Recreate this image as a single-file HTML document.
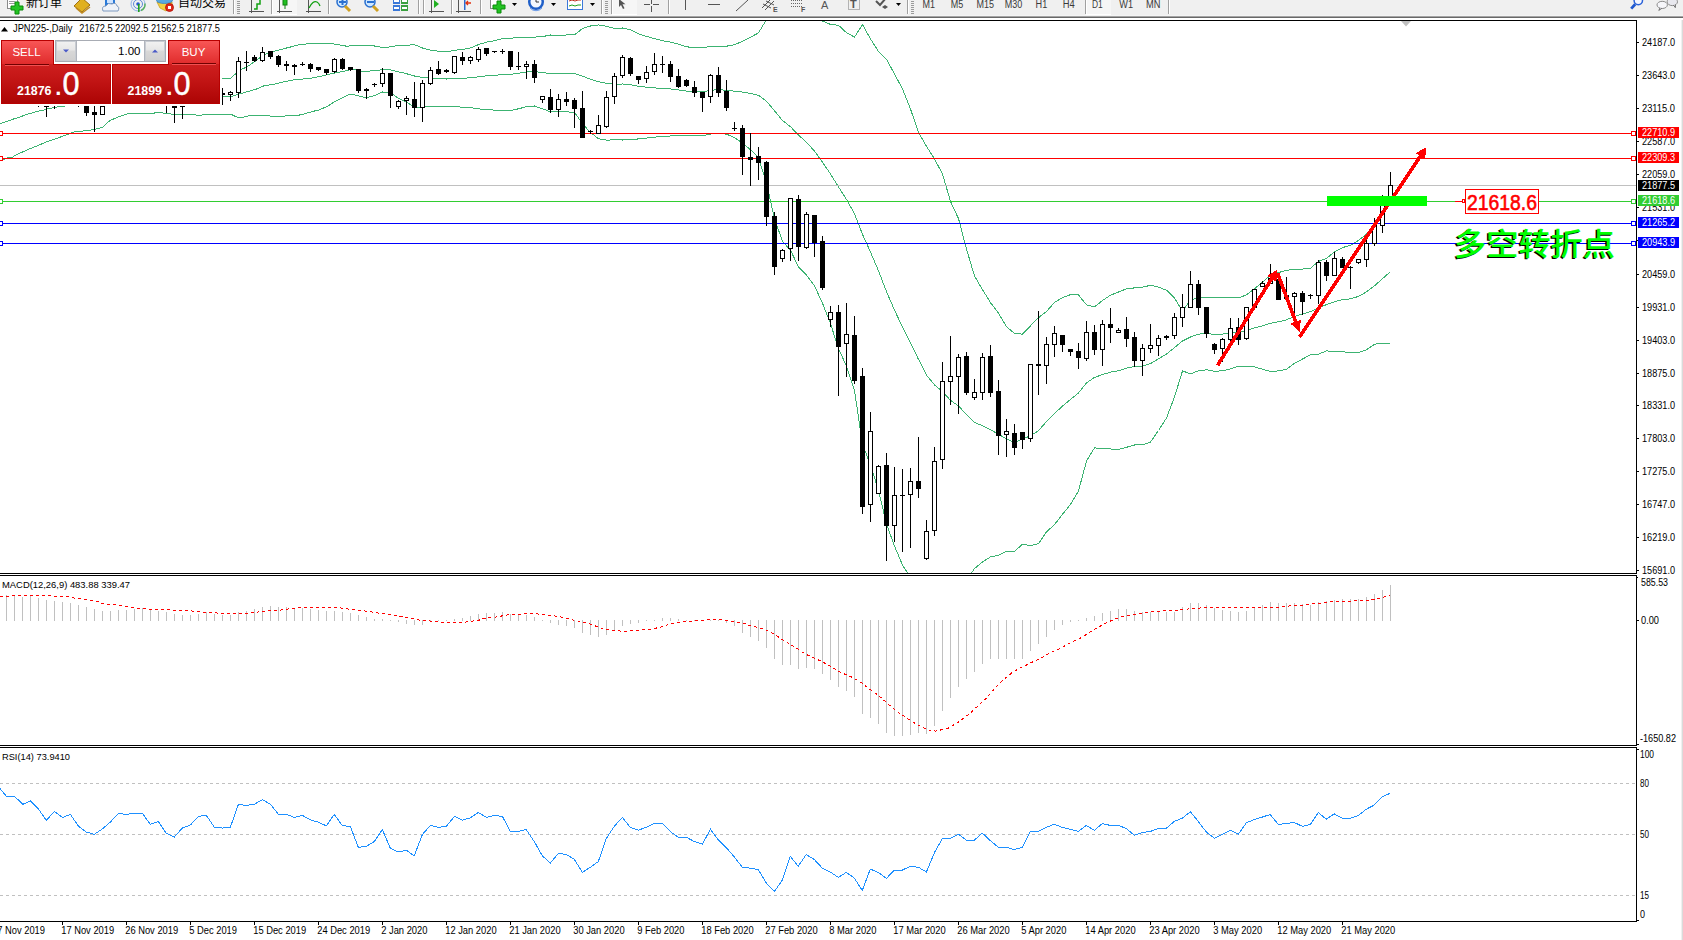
<!DOCTYPE html><html><head><meta charset="utf-8"><title>JPN225 Daily</title>
<style>html,body{margin:0;padding:0;background:#fff;overflow:hidden}svg{display:block}text{white-space:pre}</style></head><body>
<svg width="1683" height="940" viewBox="0 0 1683 940">
<rect x="0" y="0" width="1683" height="16" fill="#f0f0f0"/>
<rect x="0" y="15" width="1683" height="1" fill="#f4f4f4"/>
<rect x="0" y="16" width="1683" height="1" fill="#a4a4a4"/>
<rect x="0" y="17" width="1683" height="1" fill="#686868"/>
<rect x="0" y="18" width="1683" height="2" fill="#ffffff"/>
<g><rect x="1086" y="0" width="25" height="14" fill="#f6f6f6"/><rect x="1086" y="14" width="25" height="1" fill="#ffffff"/><rect x="272" y="0" width="25" height="14" fill="#f6f6f6"/><rect x="272" y="14" width="25" height="1" fill="#ffffff"/><rect x="612" y="0" width="25" height="14" fill="#f6f6f6"/><rect x="612" y="14" width="25" height="1" fill="#ffffff"/><rect x="233" y="0" width="1" height="14" fill="#a0a0a0"/><rect x="234" y="0" width="1" height="14" fill="#ffffff"/><rect x="271" y="0" width="1" height="14" fill="#a0a0a0"/><rect x="272" y="0" width="1" height="14" fill="#ffffff"/><rect x="328" y="0" width="1" height="14" fill="#a0a0a0"/><rect x="329" y="0" width="1" height="14" fill="#ffffff"/><rect x="418" y="0" width="1" height="14" fill="#a0a0a0"/><rect x="419" y="0" width="1" height="14" fill="#ffffff"/><rect x="423" y="0" width="1" height="14" fill="#a0a0a0"/><rect x="424" y="0" width="1" height="14" fill="#ffffff"/><rect x="451" y="0" width="1" height="14" fill="#a0a0a0"/><rect x="452" y="0" width="1" height="14" fill="#ffffff"/><rect x="480" y="0" width="1" height="14" fill="#a0a0a0"/><rect x="481" y="0" width="1" height="14" fill="#ffffff"/><rect x="601" y="0" width="1" height="14" fill="#a0a0a0"/><rect x="602" y="0" width="1" height="14" fill="#ffffff"/><rect x="611" y="0" width="1" height="14" fill="#a0a0a0"/><rect x="612" y="0" width="1" height="14" fill="#ffffff"/><rect x="668" y="0" width="1" height="14" fill="#a0a0a0"/><rect x="669" y="0" width="1" height="14" fill="#ffffff"/><rect x="907" y="0" width="1" height="14" fill="#a0a0a0"/><rect x="908" y="0" width="1" height="14" fill="#ffffff"/><rect x="1085" y="0" width="1" height="14" fill="#a0a0a0"/><rect x="1086" y="0" width="1" height="14" fill="#ffffff"/><rect x="1168" y="0" width="1" height="14" fill="#a0a0a0"/><rect x="1169" y="0" width="1" height="14" fill="#ffffff"/><rect x="237" y="1" width="3" height="1" fill="#9a9a9a"/><rect x="237" y="3" width="3" height="1" fill="#9a9a9a"/><rect x="237" y="5" width="3" height="1" fill="#9a9a9a"/><rect x="237" y="7" width="3" height="1" fill="#9a9a9a"/><rect x="237" y="9" width="3" height="1" fill="#9a9a9a"/><rect x="237" y="11" width="3" height="1" fill="#9a9a9a"/><rect x="237" y="13" width="3" height="1" fill="#9a9a9a"/><rect x="605" y="1" width="3" height="1" fill="#9a9a9a"/><rect x="605" y="3" width="3" height="1" fill="#9a9a9a"/><rect x="605" y="5" width="3" height="1" fill="#9a9a9a"/><rect x="605" y="7" width="3" height="1" fill="#9a9a9a"/><rect x="605" y="9" width="3" height="1" fill="#9a9a9a"/><rect x="605" y="11" width="3" height="1" fill="#9a9a9a"/><rect x="605" y="13" width="3" height="1" fill="#9a9a9a"/><rect x="911" y="1" width="3" height="1" fill="#9a9a9a"/><rect x="911" y="3" width="3" height="1" fill="#9a9a9a"/><rect x="911" y="5" width="3" height="1" fill="#9a9a9a"/><rect x="911" y="7" width="3" height="1" fill="#9a9a9a"/><rect x="911" y="9" width="3" height="1" fill="#9a9a9a"/><rect x="911" y="11" width="3" height="1" fill="#9a9a9a"/><rect x="911" y="13" width="3" height="1" fill="#9a9a9a"/><rect x="7.5" y="-3.5" width="10" height="12" fill="#fff" stroke="#8a8a8a"/><rect x="9" y="1" width="6" height="1" fill="#9a9a9a"/><rect x="9" y="3" width="6" height="1" fill="#9a9a9a"/><path d="M15 2h4v4h4v4h-4v4h-4v-4h-4v-4h4z" fill="#22c322" stroke="#0a8a0a" stroke-width="1"/><path d="M74 6 L82 -2 L90 5 L82 12 Z" fill="#e0b020" stroke="#a07010"/><path d="M76 8 L82 13 L90 7" fill="none" stroke="#c08a20" stroke-width="1.5"/><rect x="105" y="-2" width="10" height="8" fill="#2a7ad8"/><rect x="107" y="0" width="6" height="3" fill="#cfe4ff"/><path d="M103 11 q-2 -5 3 -5 q2 -4 6 -2 q4 -2 5 2 q3 1 1 5 z" fill="#eef2f8" stroke="#7f9ac0"/><circle cx="138" cy="4" r="7" fill="none" stroke="#8fb0e8" stroke-width="1"/><circle cx="138" cy="4" r="4.5" fill="none" stroke="#5a88d8" stroke-width="1"/><path d="M141 10.5 a7 7 0 0 0 4 -7" fill="none" stroke="#58b060" stroke-width="1.5"/><circle cx="138" cy="4" r="1.8" fill="#2a5ad0"/><rect x="138" y="4" width="1.6" height="8" fill="#20a020"/><path d="M157 2 L172 2 L172 6 L166 11 L160 8 Z" fill="#f2d040" stroke="#c8a020" stroke-width="0.8"/><ellipse cx="164.5" cy="0.5" rx="8" ry="3" fill="#58a8e0" stroke="#3a80c0" stroke-width="0.8"/><circle cx="169.5" cy="7.5" r="4" fill="#e02818" stroke="#b01008" stroke-width="0.8"/><rect x="168" y="6" width="3" height="3" fill="#fff"/><rect x="251" y="0" width="1" height="13" fill="#555"/><rect x="249" y="11" width="15" height="1" fill="#555"/><path d="M254 9 h3 v-5 h3 v-6" fill="none" stroke="#10a010" stroke-width="1.5"/><rect x="279" y="0" width="1" height="13" fill="#555"/><rect x="277" y="11" width="15" height="1" fill="#555"/><rect x="283" y="-2" width="4" height="7" fill="#20c020" stroke="#108010"/><rect x="284.5" y="5" width="1" height="4" fill="#108010"/><rect x="308" y="0" width="1" height="13" fill="#555"/><rect x="306" y="11" width="15" height="1" fill="#555"/><path d="M309 8 q4 -8 8 -6 q2 1 3 4" fill="none" stroke="#10a010" stroke-width="1.3"/><circle cx="342" cy="2" r="5" fill="#cfe8ff" stroke="#2a70d0" stroke-width="1.5"/><path d="M345 6 l5 5" stroke="#d0a020" stroke-width="3"/><rect x="339" y="1" width="7" height="2" fill="#2a70d0"/><rect x="341.5" y="-2" width="2" height="7" fill="#2a70d0"/><circle cx="370" cy="2" r="5" fill="#cfe8ff" stroke="#2a70d0" stroke-width="1.5"/><path d="M373 6 l5 5" stroke="#d0a020" stroke-width="3"/><rect x="367" y="1" width="7" height="2" fill="#2a70d0"/><rect x="393" y="-2" width="7" height="6" fill="#3a78d8"/><rect x="401" y="-2" width="7" height="6" fill="#3aa040"/><rect x="393" y="5" width="7" height="6" fill="#3a78d8"/><rect x="401" y="5" width="7" height="6" fill="#3aa040"/><rect x="394" y="7" width="5" height="2" fill="#fff"/><rect x="402" y="7" width="5" height="2" fill="#fff"/><rect x="394" y="0" width="5" height="2" fill="#fff"/><rect x="402" y="0" width="5" height="2" fill="#fff"/><rect x="431" y="0" width="1" height="13" fill="#555"/><rect x="429" y="11" width="15" height="1" fill="#555"/><path d="M434 0 l5 4 l-5 4 z" fill="#20b020"/><rect x="458" y="0" width="1" height="13" fill="#555"/><rect x="456" y="11" width="15" height="1" fill="#555"/><rect x="464" y="-1" width="1.5" height="11" fill="#2a6ad0"/><path d="M471 3 h-5 m2 -2 l-2 2 l2 2" fill="none" stroke="#e03010" stroke-width="1.3"/><rect x="490.5" y="-3.5" width="10" height="12" fill="#fff" stroke="#8a8a8a"/><path d="M497 1h4v4h4v4h-4v4h-4v-4h-4v-4h4z" fill="#22c322" stroke="#0a8a0a"/><path d="M512 3 h5 l-2.5 3 z" fill="#000"/><circle cx="536" cy="2" r="8" fill="#1f5fc8"/><circle cx="536" cy="2" r="5.5" fill="#f4f8ff"/><path d="M536 -1 v3 h3" stroke="#333" fill="none"/><path d="M530 8 a8 8 0 0 0 12 0" stroke="#6a9ae8" fill="none"/><path d="M551 3 h5 l-2.5 3 z" fill="#000"/><rect x="567.5" y="-3.5" width="15" height="13" fill="#fff" stroke="#3a78d8"/><path d="M569 1 l3 -1 l3 1 l3 -1 l3 0" stroke="#c03020" fill="none"/><path d="M569 6 l3 -1 l3 1 l3 -1 l3 0" stroke="#20a020" fill="none"/><path d="M590 3 h5 l-2.5 3 z" fill="#000"/><path d="M619 -1 l0 8 l2 -2 l2 4 l1.5 -0.7 l-2 -4 l3 0 z" fill="#555"/><rect x="651" y="-2" width="1" height="6" fill="#555"/><rect x="651" y="6" width="1" height="6" fill="#555"/><rect x="644" y="4" width="6" height="1" fill="#555"/><rect x="653" y="4" width="6" height="1" fill="#555"/><rect x="685" y="-2" width="1" height="12" fill="#555"/><rect x="708" y="4" width="12" height="1" fill="#555"/><path d="M736 11 L748 0" stroke="#555" stroke-width="1"/><path d="M762 8 l9 -9 M765 10 l9 -9 M763 4 l8 4 M766 1 l8 4" stroke="#555" stroke-width="1"/><text x="773" y="12" font-family="'Liberation Sans', 'DejaVu Sans', sans-serif" font-size="7" font-weight="bold" fill="#555">E</text><path d="M791 0.5 h12" stroke="#666" stroke-dasharray="1 1"/><path d="M791 3.5 h12" stroke="#666" stroke-dasharray="1 1"/><path d="M791 6.5 h12" stroke="#666" stroke-dasharray="1 1"/><text x="801" y="12" font-family="'Liberation Sans', 'DejaVu Sans', sans-serif" font-size="7" font-weight="bold" fill="#555">F</text><text x="821" y="9" font-family="'Liberation Sans', 'DejaVu Sans', sans-serif" font-size="11" fill="#555">A</text><rect x="848.5" y="-2.5" width="11" height="12" fill="none" stroke="#777" stroke-dasharray="1 1"/><text x="850" y="8" font-family="'Liberation Sans', 'DejaVu Sans', sans-serif" font-size="11" font-weight="bold" fill="#555">T</text><path d="M876 1 l4 4 l6 -7" stroke="#555" stroke-width="2" fill="none"/><path d="M882 7 l3 -2 l3 2 l-3 2 z" fill="#555"/><path d="M896 3 h5 l-2.5 3 z" fill="#000"/><text x="922.5" y="8" font-family="'Liberation Sans', 'DejaVu Sans', sans-serif" font-size="10" fill="#3a3a3a" textLength="12.5" lengthAdjust="spacingAndGlyphs">M1</text><text x="950.7" y="8" font-family="'Liberation Sans', 'DejaVu Sans', sans-serif" font-size="10" fill="#3a3a3a" textLength="12.5" lengthAdjust="spacingAndGlyphs">M5</text><text x="976.5" y="8" font-family="'Liberation Sans', 'DejaVu Sans', sans-serif" font-size="10" fill="#3a3a3a" textLength="17.5" lengthAdjust="spacingAndGlyphs">M15</text><text x="1004.8" y="8" font-family="'Liberation Sans', 'DejaVu Sans', sans-serif" font-size="10" fill="#3a3a3a" textLength="17.5" lengthAdjust="spacingAndGlyphs">M30</text><text x="1035.6" y="8" font-family="'Liberation Sans', 'DejaVu Sans', sans-serif" font-size="10" fill="#3a3a3a" textLength="11.7" lengthAdjust="spacingAndGlyphs">H1</text><text x="1062.7" y="8" font-family="'Liberation Sans', 'DejaVu Sans', sans-serif" font-size="10" fill="#3a3a3a" textLength="12" lengthAdjust="spacingAndGlyphs">H4</text><text x="1092" y="8" font-family="'Liberation Sans', 'DejaVu Sans', sans-serif" font-size="10" fill="#3a3a3a" textLength="10.8" lengthAdjust="spacingAndGlyphs">D1</text><text x="1119.3" y="8" font-family="'Liberation Sans', 'DejaVu Sans', sans-serif" font-size="10" fill="#3a3a3a" textLength="13.7" lengthAdjust="spacingAndGlyphs">W1</text><text x="1146" y="8" font-family="'Liberation Sans', 'DejaVu Sans', sans-serif" font-size="10" fill="#3a3a3a" textLength="14.4" lengthAdjust="spacingAndGlyphs">MN</text><circle cx="1638.3" cy="0.6" r="4.2" fill="#f4f6ff" stroke="#2a62d8" stroke-width="1.5"/><path d="M1635.2 4.2 L1631.2 8.6" stroke="#1f58d0" stroke-width="2.8"/><ellipse cx="1672.3" cy="1.8" rx="5.2" ry="3.8" fill="#e8e8ee" stroke="#8a8a8a"/><path d="M1673.5 5 l1.8 2.6 l0.2 -3" fill="#e8e8ee" stroke="#555" stroke-width="0.8"/><ellipse cx="1662.2" cy="4.9" rx="5.2" ry="3.6" fill="#f6f6fa" stroke="#8a8a8a"/><path d="M1660 8 l-1.2 2.4 l3 -2" fill="#f6f6fa" stroke="#555" stroke-width="0.8"/><text x="26" y="7.2" font-family="'Liberation Sans', 'Noto Sans CJK SC', 'WenQuanYi Zen Hei', sans-serif" font-size="12" fill="#000">新订单</text><text x="178" y="6.8" font-family="'Liberation Sans', 'Noto Sans CJK SC', 'WenQuanYi Zen Hei', sans-serif" font-size="12" fill="#000">自动交易</text></g>
<rect x="0" y="15" width="1683" height="1" fill="#f4f4f4"/>
<rect x="0" y="16" width="1683" height="1" fill="#a4a4a4"/>
<rect x="0" y="17" width="1683" height="1" fill="#686868"/>
<rect x="0" y="18" width="1683" height="2" fill="#ffffff"/>
<rect x="0" y="20" width="1637" height="1" fill="#000"/>
<rect x="0" y="573" width="1637" height="1" fill="#000"/>
<rect x="0" y="575" width="1637" height="1" fill="#000"/>
<rect x="0" y="745" width="1637" height="1" fill="#000"/>
<rect x="0" y="747" width="1637" height="1" fill="#000"/>
<rect x="0" y="921" width="1637" height="1" fill="#000"/>
<rect x="1636" y="20" width="1" height="554" fill="#000"/>
<rect x="1636" y="575" width="1" height="171" fill="#000"/>
<rect x="1636" y="747" width="1" height="175" fill="#000"/>
<rect x="1681" y="20" width="1" height="920" fill="#f0f0f0"/>
<rect x="1682" y="20" width="1" height="920" fill="#dadada"/>
<path d="M1401 21 h10 l-5 5.5 z" fill="#c0c0c0"/>
<defs><clipPath id="cm"><rect x="0" y="21" width="1636" height="552"/></clipPath><clipPath id="cmacd"><rect x="0" y="576" width="1636" height="169"/></clipPath><clipPath id="crsi"><rect x="0" y="748" width="1636" height="173"/></clipPath></defs>
<g clip-path="url(#cm)">
<g shape-rendering="crispEdges">
<polyline points="222.0,78.4 230.6,78.4 235.0,74.3 241.0,69.5 246.6,67.1 254.3,61.9 260.0,57.5 265.8,54.2 273.5,51.3 283.0,48.9 292.6,46.5 300.3,44.4 313.7,43.5 331.0,43.2 336.0,44.4 338.5,44.8 347.2,46.3 353.9,45.4 370.0,45.4 374.5,46.0 382.5,47.4 390.5,46.9 398.5,45.4 406.5,45.2 414.5,44.7 422.5,48.0 430.5,50.1 438.5,51.2 446.5,51.9 454.5,50.2 462.5,49.5 470.5,47.9 478.5,44.6 486.5,42.1 494.5,40.7 502.5,38.5 510.5,38.2 518.5,37.6 526.5,37.1 534.5,37.1 542.5,36.6 550.5,35.0 558.5,35.2 566.5,35.0 574.5,34.8 582.5,28.6 590.5,26.0 598.5,25.0 606.5,26.2 614.5,28.4 622.5,28.0 630.5,29.8 638.5,33.7 646.5,36.4 654.5,38.6 662.5,40.8 670.5,42.1 678.5,44.2 686.5,46.7 694.5,47.9 702.5,47.9 710.5,46.4 718.5,46.3 726.5,46.2 734.5,44.7 742.5,41.3 750.5,37.2 758.5,32.9 766.5,19.5 774.5,2.8 782.5,-0.5 790.5,3.2 798.5,3.2 806.5,9.2 814.5,16.3 822.5,21.1 830.5,24.4 838.5,25.3 846.5,32.7 854.5,37.1 862.5,24.6 870.5,38.9 878.5,51.4 886.5,59.2 894.5,74.1 902.5,88.9 910.5,109.0 918.5,132.5 926.5,146.4 934.5,158.9 942.5,174.0 950.5,201.4 958.5,218.6 966.5,249.1 974.5,276.0 982.5,289.6 990.5,302.7 998.5,313.1 1006.5,326.8 1014.5,333.4 1022.5,334.1 1030.5,325.8 1038.5,317.7 1046.5,311.5 1054.5,302.5 1062.5,297.7 1070.5,294.6 1078.5,295.0 1086.5,304.9 1094.5,306.9 1102.5,300.5 1110.5,295.2 1118.5,292.0 1126.5,288.8 1134.5,287.9 1142.5,287.2 1150.5,285.3 1158.5,287.1 1166.5,290.2 1174.5,298.2 1182.5,311.1 1190.5,300.1 1198.5,297.5 1206.5,297.3 1214.5,297.4 1222.5,297.4 1230.5,297.1 1238.5,297.8 1246.5,294.9 1254.5,288.8 1262.5,282.2 1270.5,275.2 1278.5,272.6 1286.5,270.3 1294.5,269.4 1302.5,269.1 1310.5,268.3 1318.5,261.4 1326.5,258.4 1334.5,251.7 1342.5,247.6 1350.5,245.3 1358.5,240.4 1366.5,234.1 1374.5,227.3 1382.5,214.2 1390.5,199.5" fill="none" stroke="#3cb371" stroke-width="1"/>
<polyline points="0.0,123.5 2.9,122.7 7.1,121.4 10.7,120.3 14.3,118.7 20.0,117.1 25.0,115.0 29.9,113.5 34.9,112.1 39.9,110.7 44.2,110.0 48.5,108.6 54.2,107.5 58.5,106.8 63.8,106.6 66.0,105.2 90.0,103.0 200.0,98.0 222.0,96.5 231.0,96.5 241.0,93.5 256.0,89.2 264.0,85.8 273.5,84.4 283.0,82.0 292.6,80.0 302.0,79.1 311.8,78.1 321.4,76.2 331.0,73.8 339.5,72.2 349.0,70.0 356.7,69.7 363.4,71.6 370.1,71.0 374.5,70.8 382.5,69.7 390.5,69.8 398.5,71.8 406.5,73.7 414.5,76.0 422.5,77.5 430.5,78.2 438.5,78.7 446.5,79.0 454.5,78.5 462.5,78.3 470.5,77.8 478.5,76.8 486.5,75.8 494.5,75.4 502.5,74.5 510.5,74.4 518.5,73.2 526.5,71.9 534.5,71.5 542.5,72.7 550.5,73.4 558.5,73.3 566.5,73.5 574.5,73.5 582.5,76.2 590.5,79.2 598.5,81.8 606.5,83.2 614.5,84.2 622.5,84.0 630.5,84.8 638.5,86.3 646.5,87.2 654.5,87.9 662.5,88.5 670.5,89.0 678.5,90.0 686.5,91.1 694.5,91.8 702.5,91.9 710.5,90.2 718.5,89.8 726.5,90.2 734.5,91.2 742.5,92.1 750.5,93.5 758.5,95.3 766.5,101.3 774.5,110.8 782.5,120.5 790.5,126.7 798.5,135.1 806.5,142.2 814.5,151.1 822.5,162.2 830.5,174.0 838.5,187.0 846.5,199.4 854.5,213.8 862.5,234.3 870.5,252.1 878.5,270.8 886.5,291.7 894.5,310.1 902.5,327.0 910.5,343.1 918.5,359.4 926.5,375.1 934.5,384.9 942.5,391.4 950.5,400.4 958.5,405.9 966.5,414.8 974.5,422.3 982.5,425.8 990.5,429.8 998.5,434.2 1006.5,439.1 1014.5,442.4 1022.5,439.1 1030.5,435.8 1038.5,430.7 1046.5,421.6 1054.5,413.6 1062.5,406.0 1070.5,399.5 1078.5,392.9 1086.5,383.0 1094.5,377.4 1102.5,374.6 1110.5,372.1 1118.5,370.8 1126.5,368.1 1134.5,366.4 1142.5,366.0 1150.5,363.6 1158.5,358.8 1166.5,354.1 1174.5,347.6 1182.5,341.0 1190.5,337.0 1198.5,334.1 1206.5,333.6 1214.5,334.4 1222.5,334.1 1230.5,332.9 1238.5,332.1 1246.5,330.8 1254.5,327.8 1262.5,325.8 1270.5,323.3 1278.5,321.8 1286.5,319.8 1294.5,316.4 1302.5,314.1 1310.5,311.6 1318.5,307.8 1326.5,304.6 1334.5,301.7 1342.5,299.7 1350.5,298.9 1358.5,296.4 1366.5,291.9 1374.5,285.8 1382.5,278.7 1390.5,271.6" fill="none" stroke="#3cb371" stroke-width="1"/>
<polyline points="0.0,160.5 3.3,159.7 8.1,157.6 11.9,157.6 15.2,155.4 23.8,151.4 30.4,148.5 38.0,145.5 47.5,141.4 57.0,138.5 61.8,136.4 67.5,134.4 72.2,132.4 77.0,131.3 80.0,131.3 89.1,130.3 94.8,129.2 102.7,127.5 105.5,124.2 110.5,120.3 114.1,118.7 122.5,115.4 125.0,114.6 130.0,113.3 154.1,113.3 154.9,112.5 162.4,112.5 164.1,113.5 170.7,113.7 172.4,114.6 194.8,114.6 196.5,115.4 201.5,115.4 203.2,114.6 231.3,114.5 237.5,117.4 241.9,117.4 250.0,115.5 266.8,115.5 273.5,116.5 297.4,115.5 304.0,114.0 311.8,111.7 319.4,109.8 328.0,106.0 333.7,102.1 349.0,94.4 354.8,94.9 366.3,97.8 374.5,95.5 382.5,92.0 390.5,92.8 398.5,98.3 406.5,102.1 414.5,107.3 422.5,107.1 430.5,106.4 438.5,106.2 446.5,106.1 454.5,106.8 462.5,107.1 470.5,107.6 478.5,108.9 486.5,109.5 494.5,110.1 502.5,110.6 510.5,110.6 518.5,108.8 526.5,106.7 534.5,106.0 542.5,108.8 550.5,111.8 558.5,111.4 566.5,111.9 574.5,112.2 582.5,123.8 590.5,132.5 598.5,138.7 606.5,140.1 614.5,139.9 622.5,140.0 630.5,139.8 638.5,138.9 646.5,138.1 654.5,137.2 662.5,136.3 670.5,136.0 678.5,135.9 686.5,135.5 694.5,135.8 702.5,135.9 710.5,134.0 718.5,133.4 726.5,134.1 734.5,137.6 742.5,142.9 750.5,149.8 758.5,157.8 766.5,183.1 774.5,218.8 782.5,241.4 790.5,250.2 798.5,266.9 806.5,275.1 814.5,285.8 822.5,303.3 830.5,323.6 838.5,348.7 846.5,366.2 854.5,390.6 862.5,444.0 870.5,465.3 878.5,490.2 886.5,524.2 894.5,546.0 902.5,565.1 910.5,577.2 918.5,586.3 926.5,603.9 934.5,610.9 942.5,608.9 950.5,599.3 958.5,593.2 966.5,580.5 974.5,568.6 982.5,562.0 990.5,556.9 998.5,555.4 1006.5,551.4 1014.5,551.5 1022.5,544.1 1030.5,545.7 1038.5,543.7 1046.5,531.8 1054.5,524.6 1062.5,514.3 1070.5,504.4 1078.5,490.9 1086.5,461.1 1094.5,447.9 1102.5,448.6 1110.5,449.0 1118.5,449.5 1126.5,447.3 1134.5,445.0 1142.5,444.8 1150.5,442.0 1158.5,430.5 1166.5,418.0 1174.5,397.0 1182.5,370.9 1190.5,373.9 1198.5,370.7 1206.5,369.8 1214.5,371.3 1222.5,370.8 1230.5,368.8 1238.5,366.3 1246.5,366.7 1254.5,366.8 1262.5,369.3 1270.5,371.4 1278.5,370.9 1286.5,369.2 1294.5,363.4 1302.5,359.0 1310.5,354.8 1318.5,354.1 1326.5,350.9 1334.5,351.7 1342.5,351.8 1350.5,352.4 1358.5,352.5 1366.5,349.8 1374.5,344.2 1382.5,343.2 1390.5,343.6" fill="none" stroke="#3cb371" stroke-width="1"/>
</g>
<rect x="0" y="185" width="1636" height="1" fill="#c0c0c0"/>
<rect x="0" y="133" width="1636" height="1" fill="#ff0000" shape-rendering="crispEdges"/>
<rect x="0" y="158" width="1636" height="1" fill="#ff0000" shape-rendering="crispEdges"/>
<rect x="0" y="201" width="1636" height="1" fill="#32cd32" shape-rendering="crispEdges"/>
<rect x="0" y="223" width="1636" height="1" fill="#0000ff" shape-rendering="crispEdges"/>
<rect x="0" y="243" width="1636" height="1" fill="#0000ff" shape-rendering="crispEdges"/>
<g shape-rendering="crispEdges">
<rect x="38" y="90" width="1" height="17" fill="#000"/>
<rect x="46" y="90" width="1" height="27" fill="#000"/>
<rect x="44" y="96" width="5" height="11" fill="#000"/>
<rect x="45" y="97" width="3" height="9" fill="#fff"/>
<rect x="54" y="90" width="1" height="19" fill="#000"/>
<rect x="78" y="90" width="1" height="17" fill="#000"/>
<rect x="86" y="90" width="1" height="26" fill="#000"/>
<rect x="84" y="100" width="5" height="13" fill="#000"/>
<rect x="94" y="90" width="1" height="42" fill="#000"/>
<rect x="92" y="112" width="5" height="3" fill="#000"/>
<rect x="102" y="100" width="1" height="15" fill="#000"/>
<rect x="100" y="106" width="5" height="9" fill="#000"/>
<rect x="101" y="107" width="3" height="7" fill="#fff"/>
<rect x="166" y="90" width="1" height="23" fill="#000"/>
<rect x="174" y="90" width="1" height="33" fill="#000"/>
<rect x="172" y="100" width="5" height="8" fill="#000"/>
<rect x="182" y="90" width="1" height="29" fill="#000"/>
<rect x="180" y="100" width="5" height="7" fill="#000"/>
<rect x="181" y="101" width="3" height="5" fill="#fff"/>
<rect x="222" y="88" width="1" height="17" fill="#000"/>
<rect x="220" y="93" width="5" height="2" fill="#000"/>
<rect x="230" y="91" width="1" height="10" fill="#000"/>
<rect x="228" y="92" width="5" height="3" fill="#000"/>
<rect x="229" y="93" width="3" height="1" fill="#fff"/>
<rect x="238" y="57" width="1" height="41" fill="#000"/>
<rect x="236" y="61" width="5" height="32" fill="#000"/>
<rect x="237" y="62" width="3" height="30" fill="#fff"/>
<rect x="246" y="51" width="1" height="20" fill="#000"/>
<rect x="244" y="62" width="5" height="1" fill="#000"/>
<rect x="254" y="55" width="1" height="7" fill="#000"/>
<rect x="252" y="57" width="5" height="4" fill="#000"/>
<rect x="262" y="47" width="1" height="15" fill="#000"/>
<rect x="260" y="52" width="5" height="9" fill="#000"/>
<rect x="261" y="53" width="3" height="7" fill="#fff"/>
<rect x="270" y="51" width="1" height="8" fill="#000"/>
<rect x="268" y="51" width="5" height="6" fill="#000"/>
<rect x="278" y="55" width="1" height="12" fill="#000"/>
<rect x="276" y="56" width="5" height="9" fill="#000"/>
<rect x="286" y="61" width="1" height="10" fill="#000"/>
<rect x="284" y="64" width="5" height="2" fill="#000"/>
<rect x="294" y="64" width="1" height="11" fill="#000"/>
<rect x="292" y="65" width="5" height="2" fill="#000"/>
<rect x="302" y="62" width="1" height="4" fill="#000"/>
<rect x="300" y="64" width="5" height="1" fill="#000"/>
<rect x="310" y="63" width="1" height="9" fill="#000"/>
<rect x="308" y="64" width="5" height="5" fill="#000"/>
<rect x="318" y="67" width="1" height="4" fill="#000"/>
<rect x="316" y="67" width="5" height="3" fill="#000"/>
<rect x="326" y="69" width="1" height="6" fill="#000"/>
<rect x="324" y="69" width="5" height="4" fill="#000"/>
<rect x="334" y="58" width="1" height="15" fill="#000"/>
<rect x="332" y="59" width="5" height="13" fill="#000"/>
<rect x="333" y="60" width="3" height="11" fill="#fff"/>
<rect x="342" y="58" width="1" height="12" fill="#000"/>
<rect x="340" y="59" width="5" height="10" fill="#000"/>
<rect x="350" y="67" width="1" height="4" fill="#000"/>
<rect x="348" y="67" width="5" height="3" fill="#000"/>
<rect x="358" y="69" width="1" height="24" fill="#000"/>
<rect x="356" y="69" width="5" height="22" fill="#000"/>
<rect x="366" y="88" width="1" height="11" fill="#000"/>
<rect x="364" y="89" width="5" height="2" fill="#000"/>
<rect x="374" y="83" width="1" height="4" fill="#000"/>
<rect x="372" y="84" width="5" height="1" fill="#000"/>
<rect x="382" y="68" width="1" height="19" fill="#000"/>
<rect x="380" y="73" width="5" height="11" fill="#000"/>
<rect x="381" y="74" width="3" height="9" fill="#fff"/>
<rect x="390" y="73" width="1" height="35" fill="#000"/>
<rect x="388" y="73" width="5" height="23" fill="#000"/>
<rect x="398" y="100" width="1" height="9" fill="#000"/>
<rect x="396" y="101" width="5" height="6" fill="#000"/>
<rect x="397" y="102" width="3" height="4" fill="#fff"/>
<rect x="406" y="96" width="1" height="19" fill="#000"/>
<rect x="404" y="98" width="5" height="3" fill="#000"/>
<rect x="405" y="99" width="3" height="1" fill="#fff"/>
<rect x="414" y="82" width="1" height="35" fill="#000"/>
<rect x="412" y="99" width="5" height="9" fill="#000"/>
<rect x="422" y="80" width="1" height="42" fill="#000"/>
<rect x="420" y="83" width="5" height="25" fill="#000"/>
<rect x="421" y="84" width="3" height="23" fill="#fff"/>
<rect x="430" y="67" width="1" height="18" fill="#000"/>
<rect x="428" y="70" width="5" height="14" fill="#000"/>
<rect x="429" y="71" width="3" height="12" fill="#fff"/>
<rect x="438" y="61" width="1" height="14" fill="#000"/>
<rect x="436" y="69" width="5" height="5" fill="#000"/>
<rect x="446" y="69" width="1" height="4" fill="#000"/>
<rect x="444" y="70" width="5" height="2" fill="#000"/>
<rect x="454" y="56" width="1" height="18" fill="#000"/>
<rect x="452" y="56" width="5" height="17" fill="#000"/>
<rect x="453" y="57" width="3" height="15" fill="#fff"/>
<rect x="462" y="52" width="1" height="13" fill="#000"/>
<rect x="460" y="57" width="5" height="4" fill="#000"/>
<rect x="470" y="56" width="1" height="8" fill="#000"/>
<rect x="468" y="57" width="5" height="4" fill="#000"/>
<rect x="469" y="58" width="3" height="2" fill="#fff"/>
<rect x="478" y="47" width="1" height="15" fill="#000"/>
<rect x="476" y="49" width="5" height="11" fill="#000"/>
<rect x="477" y="50" width="3" height="9" fill="#fff"/>
<rect x="486" y="48" width="1" height="8" fill="#000"/>
<rect x="484" y="48" width="5" height="6" fill="#000"/>
<rect x="494" y="51" width="1" height="2" fill="#000"/>
<rect x="492" y="51" width="5" height="1" fill="#000"/>
<rect x="502" y="49" width="1" height="5" fill="#000"/>
<rect x="500" y="51" width="5" height="1" fill="#000"/>
<rect x="510" y="51" width="1" height="19" fill="#000"/>
<rect x="508" y="51" width="5" height="16" fill="#000"/>
<rect x="518" y="52" width="1" height="18" fill="#000"/>
<rect x="516" y="66" width="5" height="1" fill="#000"/>
<rect x="526" y="61" width="1" height="18" fill="#000"/>
<rect x="524" y="64" width="5" height="3" fill="#000"/>
<rect x="525" y="65" width="3" height="1" fill="#fff"/>
<rect x="534" y="60" width="1" height="23" fill="#000"/>
<rect x="532" y="64" width="5" height="14" fill="#000"/>
<rect x="542" y="96" width="1" height="7" fill="#000"/>
<rect x="540" y="96" width="5" height="4" fill="#000"/>
<rect x="541" y="97" width="3" height="2" fill="#fff"/>
<rect x="550" y="89" width="1" height="24" fill="#000"/>
<rect x="548" y="97" width="5" height="13" fill="#000"/>
<rect x="558" y="94" width="1" height="23" fill="#000"/>
<rect x="556" y="99" width="5" height="11" fill="#000"/>
<rect x="557" y="100" width="3" height="9" fill="#fff"/>
<rect x="566" y="92" width="1" height="14" fill="#000"/>
<rect x="564" y="99" width="5" height="3" fill="#000"/>
<rect x="574" y="98" width="1" height="30" fill="#000"/>
<rect x="572" y="100" width="5" height="9" fill="#000"/>
<rect x="582" y="91" width="1" height="47" fill="#000"/>
<rect x="580" y="108" width="5" height="30" fill="#000"/>
<rect x="590" y="130" width="1" height="4" fill="#000"/>
<rect x="588" y="131" width="5" height="1" fill="#000"/>
<rect x="598" y="115" width="1" height="19" fill="#000"/>
<rect x="596" y="125" width="5" height="9" fill="#000"/>
<rect x="597" y="126" width="3" height="7" fill="#fff"/>
<rect x="606" y="91" width="1" height="37" fill="#000"/>
<rect x="604" y="97" width="5" height="30" fill="#000"/>
<rect x="605" y="98" width="3" height="28" fill="#fff"/>
<rect x="614" y="73" width="1" height="31" fill="#000"/>
<rect x="612" y="76" width="5" height="21" fill="#000"/>
<rect x="613" y="77" width="3" height="19" fill="#fff"/>
<rect x="622" y="55" width="1" height="23" fill="#000"/>
<rect x="620" y="57" width="5" height="19" fill="#000"/>
<rect x="621" y="58" width="3" height="17" fill="#fff"/>
<rect x="630" y="57" width="1" height="19" fill="#000"/>
<rect x="628" y="58" width="5" height="16" fill="#000"/>
<rect x="638" y="76" width="1" height="8" fill="#000"/>
<rect x="636" y="76" width="5" height="4" fill="#000"/>
<rect x="646" y="66" width="1" height="17" fill="#000"/>
<rect x="644" y="72" width="5" height="7" fill="#000"/>
<rect x="645" y="73" width="3" height="5" fill="#fff"/>
<rect x="654" y="53" width="1" height="22" fill="#000"/>
<rect x="652" y="64" width="5" height="8" fill="#000"/>
<rect x="653" y="65" width="3" height="6" fill="#fff"/>
<rect x="662" y="56" width="1" height="17" fill="#000"/>
<rect x="660" y="64" width="5" height="1" fill="#000"/>
<rect x="670" y="61" width="1" height="21" fill="#000"/>
<rect x="668" y="64" width="5" height="13" fill="#000"/>
<rect x="678" y="69" width="1" height="19" fill="#000"/>
<rect x="676" y="76" width="5" height="11" fill="#000"/>
<rect x="686" y="79" width="1" height="8" fill="#000"/>
<rect x="684" y="80" width="5" height="6" fill="#000"/>
<rect x="694" y="81" width="1" height="16" fill="#000"/>
<rect x="692" y="87" width="5" height="6" fill="#000"/>
<rect x="702" y="92" width="1" height="20" fill="#000"/>
<rect x="700" y="92" width="5" height="6" fill="#000"/>
<rect x="710" y="74" width="1" height="29" fill="#000"/>
<rect x="708" y="75" width="5" height="22" fill="#000"/>
<rect x="709" y="76" width="3" height="20" fill="#fff"/>
<rect x="718" y="67" width="1" height="30" fill="#000"/>
<rect x="716" y="75" width="5" height="18" fill="#000"/>
<rect x="726" y="80" width="1" height="31" fill="#000"/>
<rect x="724" y="91" width="5" height="17" fill="#000"/>
<rect x="734" y="122" width="1" height="9" fill="#000"/>
<rect x="732" y="128" width="5" height="1" fill="#000"/>
<rect x="742" y="125" width="1" height="50" fill="#000"/>
<rect x="740" y="128" width="5" height="29" fill="#000"/>
<rect x="750" y="133" width="1" height="53" fill="#000"/>
<rect x="748" y="157" width="5" height="3" fill="#000"/>
<rect x="758" y="147" width="1" height="33" fill="#000"/>
<rect x="756" y="156" width="5" height="7" fill="#000"/>
<rect x="766" y="161" width="1" height="65" fill="#000"/>
<rect x="764" y="162" width="5" height="55" fill="#000"/>
<rect x="774" y="212" width="1" height="63" fill="#000"/>
<rect x="772" y="216" width="5" height="51" fill="#000"/>
<rect x="782" y="249" width="1" height="13" fill="#000"/>
<rect x="780" y="250" width="5" height="9" fill="#000"/>
<rect x="781" y="251" width="3" height="7" fill="#fff"/>
<rect x="790" y="198" width="1" height="63" fill="#000"/>
<rect x="788" y="198" width="5" height="51" fill="#000"/>
<rect x="789" y="199" width="3" height="49" fill="#fff"/>
<rect x="798" y="195" width="1" height="66" fill="#000"/>
<rect x="796" y="199" width="5" height="48" fill="#000"/>
<rect x="806" y="212" width="1" height="37" fill="#000"/>
<rect x="804" y="214" width="5" height="34" fill="#000"/>
<rect x="805" y="215" width="3" height="32" fill="#fff"/>
<rect x="814" y="215" width="1" height="42" fill="#000"/>
<rect x="812" y="215" width="5" height="28" fill="#000"/>
<rect x="822" y="236" width="1" height="54" fill="#000"/>
<rect x="820" y="241" width="5" height="47" fill="#000"/>
<rect x="830" y="306" width="1" height="21" fill="#000"/>
<rect x="828" y="312" width="5" height="8" fill="#000"/>
<rect x="829" y="313" width="3" height="6" fill="#fff"/>
<rect x="838" y="305" width="1" height="91" fill="#000"/>
<rect x="836" y="312" width="5" height="35" fill="#000"/>
<rect x="846" y="303" width="1" height="74" fill="#000"/>
<rect x="844" y="334" width="5" height="10" fill="#000"/>
<rect x="845" y="335" width="3" height="8" fill="#fff"/>
<rect x="854" y="316" width="1" height="68" fill="#000"/>
<rect x="852" y="335" width="5" height="46" fill="#000"/>
<rect x="862" y="368" width="1" height="146" fill="#000"/>
<rect x="860" y="376" width="5" height="131" fill="#000"/>
<rect x="870" y="412" width="1" height="110" fill="#000"/>
<rect x="868" y="431" width="5" height="74" fill="#000"/>
<rect x="869" y="432" width="3" height="72" fill="#fff"/>
<rect x="878" y="465" width="1" height="29" fill="#000"/>
<rect x="876" y="466" width="5" height="28" fill="#000"/>
<rect x="877" y="467" width="3" height="26" fill="#fff"/>
<rect x="886" y="453" width="1" height="108" fill="#000"/>
<rect x="884" y="465" width="5" height="61" fill="#000"/>
<rect x="894" y="467" width="1" height="75" fill="#000"/>
<rect x="892" y="495" width="5" height="31" fill="#000"/>
<rect x="893" y="496" width="3" height="29" fill="#fff"/>
<rect x="902" y="469" width="1" height="83" fill="#000"/>
<rect x="900" y="495" width="5" height="1" fill="#000"/>
<rect x="910" y="468" width="1" height="80" fill="#000"/>
<rect x="908" y="481" width="5" height="14" fill="#000"/>
<rect x="909" y="482" width="3" height="12" fill="#fff"/>
<rect x="918" y="437" width="1" height="61" fill="#000"/>
<rect x="916" y="481" width="5" height="8" fill="#000"/>
<rect x="926" y="520" width="1" height="40" fill="#000"/>
<rect x="924" y="531" width="5" height="28" fill="#000"/>
<rect x="925" y="532" width="3" height="26" fill="#fff"/>
<rect x="934" y="447" width="1" height="89" fill="#000"/>
<rect x="932" y="461" width="5" height="70" fill="#000"/>
<rect x="933" y="462" width="3" height="68" fill="#fff"/>
<rect x="942" y="362" width="1" height="107" fill="#000"/>
<rect x="940" y="381" width="5" height="79" fill="#000"/>
<rect x="941" y="382" width="3" height="77" fill="#fff"/>
<rect x="950" y="336" width="1" height="69" fill="#000"/>
<rect x="948" y="376" width="5" height="6" fill="#000"/>
<rect x="949" y="377" width="3" height="4" fill="#fff"/>
<rect x="958" y="354" width="1" height="60" fill="#000"/>
<rect x="956" y="357" width="5" height="20" fill="#000"/>
<rect x="957" y="358" width="3" height="18" fill="#fff"/>
<rect x="966" y="352" width="1" height="43" fill="#000"/>
<rect x="964" y="356" width="5" height="37" fill="#000"/>
<rect x="974" y="379" width="1" height="21" fill="#000"/>
<rect x="972" y="392" width="5" height="6" fill="#000"/>
<rect x="973" y="393" width="3" height="4" fill="#fff"/>
<rect x="982" y="353" width="1" height="47" fill="#000"/>
<rect x="980" y="357" width="5" height="36" fill="#000"/>
<rect x="981" y="358" width="3" height="34" fill="#fff"/>
<rect x="990" y="345" width="1" height="52" fill="#000"/>
<rect x="988" y="356" width="5" height="37" fill="#000"/>
<rect x="998" y="380" width="1" height="75" fill="#000"/>
<rect x="996" y="391" width="5" height="45" fill="#000"/>
<rect x="1006" y="419" width="1" height="38" fill="#000"/>
<rect x="1004" y="431" width="5" height="4" fill="#000"/>
<rect x="1005" y="432" width="3" height="2" fill="#fff"/>
<rect x="1014" y="424" width="1" height="31" fill="#000"/>
<rect x="1012" y="433" width="5" height="15" fill="#000"/>
<rect x="1022" y="432" width="1" height="17" fill="#000"/>
<rect x="1020" y="432" width="5" height="8" fill="#000"/>
<rect x="1030" y="364" width="1" height="78" fill="#000"/>
<rect x="1028" y="364" width="5" height="75" fill="#000"/>
<rect x="1029" y="365" width="3" height="73" fill="#fff"/>
<rect x="1038" y="311" width="1" height="84" fill="#000"/>
<rect x="1036" y="364" width="5" height="2" fill="#000"/>
<rect x="1046" y="337" width="1" height="47" fill="#000"/>
<rect x="1044" y="344" width="5" height="22" fill="#000"/>
<rect x="1045" y="345" width="3" height="20" fill="#fff"/>
<rect x="1054" y="326" width="1" height="31" fill="#000"/>
<rect x="1052" y="333" width="5" height="12" fill="#000"/>
<rect x="1053" y="334" width="3" height="10" fill="#fff"/>
<rect x="1062" y="335" width="1" height="17" fill="#000"/>
<rect x="1060" y="335" width="5" height="10" fill="#000"/>
<rect x="1070" y="349" width="1" height="7" fill="#000"/>
<rect x="1068" y="349" width="5" height="3" fill="#000"/>
<rect x="1078" y="343" width="1" height="26" fill="#000"/>
<rect x="1076" y="351" width="5" height="7" fill="#000"/>
<rect x="1086" y="321" width="1" height="40" fill="#000"/>
<rect x="1084" y="332" width="5" height="27" fill="#000"/>
<rect x="1085" y="333" width="3" height="25" fill="#fff"/>
<rect x="1094" y="325" width="1" height="30" fill="#000"/>
<rect x="1092" y="332" width="5" height="18" fill="#000"/>
<rect x="1102" y="320" width="1" height="46" fill="#000"/>
<rect x="1100" y="324" width="5" height="26" fill="#000"/>
<rect x="1101" y="325" width="3" height="24" fill="#fff"/>
<rect x="1110" y="308" width="1" height="35" fill="#000"/>
<rect x="1108" y="324" width="5" height="4" fill="#000"/>
<rect x="1118" y="328" width="1" height="5" fill="#000"/>
<rect x="1116" y="330" width="5" height="3" fill="#000"/>
<rect x="1117" y="331" width="3" height="1" fill="#fff"/>
<rect x="1126" y="317" width="1" height="30" fill="#000"/>
<rect x="1124" y="329" width="5" height="10" fill="#000"/>
<rect x="1134" y="332" width="1" height="35" fill="#000"/>
<rect x="1132" y="337" width="5" height="24" fill="#000"/>
<rect x="1142" y="344" width="1" height="32" fill="#000"/>
<rect x="1140" y="348" width="5" height="13" fill="#000"/>
<rect x="1141" y="349" width="3" height="11" fill="#fff"/>
<rect x="1150" y="324" width="1" height="29" fill="#000"/>
<rect x="1148" y="345" width="5" height="4" fill="#000"/>
<rect x="1149" y="346" width="3" height="2" fill="#fff"/>
<rect x="1158" y="335" width="1" height="21" fill="#000"/>
<rect x="1156" y="338" width="5" height="8" fill="#000"/>
<rect x="1157" y="339" width="3" height="6" fill="#fff"/>
<rect x="1166" y="335" width="1" height="5" fill="#000"/>
<rect x="1164" y="336" width="5" height="2" fill="#000"/>
<rect x="1174" y="313" width="1" height="26" fill="#000"/>
<rect x="1172" y="317" width="5" height="19" fill="#000"/>
<rect x="1173" y="318" width="3" height="17" fill="#fff"/>
<rect x="1182" y="294" width="1" height="33" fill="#000"/>
<rect x="1180" y="307" width="5" height="11" fill="#000"/>
<rect x="1181" y="308" width="3" height="9" fill="#fff"/>
<rect x="1190" y="271" width="1" height="37" fill="#000"/>
<rect x="1188" y="284" width="5" height="24" fill="#000"/>
<rect x="1189" y="285" width="3" height="22" fill="#fff"/>
<rect x="1198" y="280" width="1" height="35" fill="#000"/>
<rect x="1196" y="284" width="5" height="24" fill="#000"/>
<rect x="1206" y="307" width="1" height="31" fill="#000"/>
<rect x="1204" y="307" width="5" height="27" fill="#000"/>
<rect x="1214" y="343" width="1" height="11" fill="#000"/>
<rect x="1212" y="344" width="5" height="6" fill="#000"/>
<rect x="1222" y="338" width="1" height="24" fill="#000"/>
<rect x="1220" y="339" width="5" height="10" fill="#000"/>
<rect x="1221" y="340" width="3" height="8" fill="#fff"/>
<rect x="1230" y="318" width="1" height="24" fill="#000"/>
<rect x="1228" y="328" width="5" height="12" fill="#000"/>
<rect x="1229" y="329" width="3" height="10" fill="#fff"/>
<rect x="1238" y="318" width="1" height="27" fill="#000"/>
<rect x="1236" y="327" width="5" height="13" fill="#000"/>
<rect x="1246" y="307" width="1" height="33" fill="#000"/>
<rect x="1244" y="307" width="5" height="32" fill="#000"/>
<rect x="1245" y="308" width="3" height="30" fill="#fff"/>
<rect x="1254" y="289" width="1" height="19" fill="#000"/>
<rect x="1252" y="289" width="5" height="19" fill="#000"/>
<rect x="1253" y="290" width="3" height="17" fill="#fff"/>
<rect x="1262" y="281" width="1" height="6" fill="#000"/>
<rect x="1260" y="283" width="5" height="4" fill="#000"/>
<rect x="1261" y="284" width="3" height="2" fill="#fff"/>
<rect x="1270" y="264" width="1" height="20" fill="#000"/>
<rect x="1268" y="278" width="5" height="6" fill="#000"/>
<rect x="1269" y="279" width="3" height="4" fill="#fff"/>
<rect x="1278" y="275" width="1" height="25" fill="#000"/>
<rect x="1276" y="279" width="5" height="21" fill="#000"/>
<rect x="1286" y="277" width="1" height="24" fill="#000"/>
<rect x="1284" y="295" width="5" height="4" fill="#000"/>
<rect x="1294" y="292" width="1" height="24" fill="#000"/>
<rect x="1292" y="293" width="5" height="4" fill="#000"/>
<rect x="1293" y="294" width="3" height="2" fill="#fff"/>
<rect x="1302" y="291" width="1" height="24" fill="#000"/>
<rect x="1300" y="293" width="5" height="9" fill="#000"/>
<rect x="1310" y="294" width="1" height="5" fill="#000"/>
<rect x="1308" y="295" width="5" height="1" fill="#000"/>
<rect x="1318" y="260" width="1" height="44" fill="#000"/>
<rect x="1316" y="262" width="5" height="34" fill="#000"/>
<rect x="1317" y="263" width="3" height="32" fill="#fff"/>
<rect x="1326" y="260" width="1" height="21" fill="#000"/>
<rect x="1324" y="262" width="5" height="14" fill="#000"/>
<rect x="1334" y="252" width="1" height="24" fill="#000"/>
<rect x="1332" y="258" width="5" height="18" fill="#000"/>
<rect x="1333" y="259" width="3" height="16" fill="#fff"/>
<rect x="1342" y="257" width="1" height="11" fill="#000"/>
<rect x="1340" y="259" width="5" height="9" fill="#000"/>
<rect x="1350" y="266" width="1" height="23" fill="#000"/>
<rect x="1348" y="267" width="5" height="1" fill="#000"/>
<rect x="1358" y="259" width="1" height="5" fill="#000"/>
<rect x="1356" y="259" width="5" height="4" fill="#000"/>
<rect x="1357" y="260" width="3" height="2" fill="#fff"/>
<rect x="1366" y="240" width="1" height="27" fill="#000"/>
<rect x="1364" y="243" width="5" height="17" fill="#000"/>
<rect x="1365" y="244" width="3" height="15" fill="#fff"/>
<rect x="1374" y="218" width="1" height="28" fill="#000"/>
<rect x="1372" y="225" width="5" height="19" fill="#000"/>
<rect x="1373" y="226" width="3" height="17" fill="#fff"/>
<rect x="1382" y="195" width="1" height="38" fill="#000"/>
<rect x="1380" y="198" width="5" height="28" fill="#000"/>
<rect x="1381" y="199" width="3" height="26" fill="#fff"/>
<rect x="1390" y="172" width="1" height="33" fill="#000"/>
<rect x="1388" y="185" width="5" height="14" fill="#000"/>
<rect x="1389" y="186" width="3" height="12" fill="#fff"/>
</g>
<rect x="-1.5" y="131.5" width="4" height="4" fill="#fff" stroke="#ff0000" stroke-width="1" shape-rendering="crispEdges"/>
<rect x="1631.5" y="131.5" width="4" height="4" fill="#fff" stroke="#ff0000" stroke-width="1" shape-rendering="crispEdges"/>
<rect x="-1.5" y="156.5" width="4" height="4" fill="#fff" stroke="#ff0000" stroke-width="1" shape-rendering="crispEdges"/>
<rect x="1631.5" y="156.5" width="4" height="4" fill="#fff" stroke="#ff0000" stroke-width="1" shape-rendering="crispEdges"/>
<rect x="-1.5" y="199.5" width="4" height="4" fill="#fff" stroke="#32cd32" stroke-width="1" shape-rendering="crispEdges"/>
<rect x="1631.5" y="199.5" width="4" height="4" fill="#fff" stroke="#32cd32" stroke-width="1" shape-rendering="crispEdges"/>
<rect x="-1.5" y="221.5" width="4" height="4" fill="#fff" stroke="#0000ff" stroke-width="1" shape-rendering="crispEdges"/>
<rect x="1631.5" y="221.5" width="4" height="4" fill="#fff" stroke="#0000ff" stroke-width="1" shape-rendering="crispEdges"/>
<rect x="-1.5" y="241.5" width="4" height="4" fill="#fff" stroke="#0000ff" stroke-width="1" shape-rendering="crispEdges"/>
<rect x="1631.5" y="241.5" width="4" height="4" fill="#fff" stroke="#0000ff" stroke-width="1" shape-rendering="crispEdges"/>
<line x1="1217.5" y1="365.5" x2="1272.7" y2="277.1" stroke="#ff0000" stroke-width="3.6" shape-rendering="crispEdges"/>
<path d="M1277.5 269.5 L1276.3 281.7 L1267.0 275.9 Z" fill="#ff0000" shape-rendering="crispEdges"/>
<line x1="1277.5" y1="273" x2="1296.4" y2="323.6" stroke="#ff0000" stroke-width="3.6" shape-rendering="crispEdges"/>
<path d="M1299.5 332.0 L1290.5 323.6 L1300.8 319.8 Z" fill="#ff0000" shape-rendering="crispEdges"/>
<line x1="1299.5" y1="337" x2="1421.5" y2="154.5" stroke="#ff0000" stroke-width="3.6" shape-rendering="crispEdges"/>
<path d="M1426.5 147.0 L1425.0 159.2 L1415.8 153.1 Z" fill="#ff0000" shape-rendering="crispEdges"/>
<rect x="1327" y="196" width="100" height="10" fill="#00ff00" shape-rendering="crispEdges"/>
<rect x="1455" y="201" width="7" height="1" fill="#ff0000"/>
<rect x="1462.5" y="199.5" width="2" height="3" fill="#fff" stroke="#ff0000" shape-rendering="crispEdges"/>
<rect x="1465.5" y="189.5" width="73" height="24" fill="#fff" stroke="#ff0000" shape-rendering="crispEdges"/>
<text x="1467" y="210" font-family="'Liberation Sans', 'DejaVu Sans', sans-serif" font-size="22" fill="#ff0000" textLength="70" lengthAdjust="spacingAndGlyphs" stroke="#ff0000" stroke-width="0.6">21618.6</text>
<text x="1452.5" y="256" font-family="'Liberation Sans', 'Noto Sans CJK SC', 'WenQuanYi Zen Hei', sans-serif" font-size="31" fill="#000" textLength="161" lengthAdjust="spacingAndGlyphs" font-weight="500">多空转折点</text>
<text x="1454" y="255" font-family="'Liberation Sans', 'Noto Sans CJK SC', 'WenQuanYi Zen Hei', sans-serif" font-size="31" fill="#00ff00" textLength="161" lengthAdjust="spacingAndGlyphs" font-weight="500">多空转折点</text>
</g>
<rect x="0" y="38" width="222" height="68" fill="#fff"/>
<defs><linearGradient id="gtab" x1="0" y1="0" x2="0" y2="1"><stop offset="0" stop-color="#f85656"/><stop offset="1" stop-color="#e02c2c"/></linearGradient><linearGradient id="gbig" x1="0" y1="0" x2="0" y2="1"><stop offset="0" stop-color="#e02e2e"/><stop offset="0.6" stop-color="#c41616"/><stop offset="1" stop-color="#ac0404"/></linearGradient><linearGradient id="gspin" x1="0" y1="0" x2="0" y2="1"><stop offset="0" stop-color="#f2f2f2"/><stop offset="0.45" stop-color="#e6e6e6"/><stop offset="0.5" stop-color="#d8d8d8"/><stop offset="1" stop-color="#d0d0d0"/></linearGradient></defs>
<path d="M1.5 40.5 H53.5 V64.5 H110.5 V103.5 H1.5 Z" fill="url(#gbig)" stroke="#b80000" shape-rendering="crispEdges"/>
<rect x="2" y="41" width="51" height="23" fill="url(#gtab)" shape-rendering="crispEdges"/>
<rect x="5" y="64" width="44" height="1" fill="#700000"/>
<rect x="5" y="65" width="44" height="1" fill="#f05050"/>
<path d="M168.5 40.5 H219.5 V103.5 H112.5 V64.5 H168.5 Z" fill="url(#gbig)" stroke="#b80000" shape-rendering="crispEdges"/>
<rect x="169" y="41" width="50" height="23" fill="url(#gtab)" shape-rendering="crispEdges"/>
<rect x="172" y="63" width="44" height="1" fill="#700000"/>
<rect x="172" y="64" width="44" height="1" fill="#f05050"/>
<rect x="55.5" y="40.5" width="110" height="21" fill="#fff" stroke="#a8acb4" shape-rendering="crispEdges"/>
<rect x="56.5" y="41.5" width="19" height="19" fill="url(#gspin)" stroke="#c8ccd2" shape-rendering="crispEdges"/>
<rect x="145.5" y="41.5" width="19" height="19" fill="url(#gspin)" stroke="#c8ccd2" shape-rendering="crispEdges"/>
<rect x="76" y="41" width="1" height="20" fill="#b0b4bc"/>
<rect x="144" y="41" width="1" height="20" fill="#b0b4bc"/>
<path d="M63 49.5 h6 l-3 3 z" fill="#4a5ac8"/>
<path d="M152 52.5 h6 l-3 -3 z" fill="#4a5ac8"/>
<text x="140.5" y="55" font-family="'Liberation Sans', 'DejaVu Sans', sans-serif" font-size="11.5" fill="#000" text-anchor="end">1.00</text>
<text x="26.5" y="56" font-family="'Liberation Sans', 'DejaVu Sans', sans-serif" font-size="11.5" fill="#fff" text-anchor="middle">SELL</text>
<text x="193.5" y="56" font-family="'Liberation Sans', 'DejaVu Sans', sans-serif" font-size="11.5" fill="#fff" text-anchor="middle">BUY</text>
<text x="17" y="95" font-family="'Liberation Sans', 'DejaVu Sans', sans-serif" font-size="13" fill="#fff" textLength="34.5" lengthAdjust="spacingAndGlyphs" font-weight="bold">21876</text>
<text x="55.3" y="95" font-family="'Liberation Sans', 'DejaVu Sans', sans-serif" font-size="22" fill="#fff" font-weight="bold">.</text>
<text x="62.5" y="95" font-family="'Liberation Sans', 'DejaVu Sans', sans-serif" font-size="33" fill="#fff" textLength="17" lengthAdjust="spacingAndGlyphs" stroke="#fff" stroke-width="0.5">0</text>
<text x="127.5" y="95" font-family="'Liberation Sans', 'DejaVu Sans', sans-serif" font-size="13" fill="#fff" textLength="34.5" lengthAdjust="spacingAndGlyphs" font-weight="bold">21899</text>
<text x="166.3" y="95" font-family="'Liberation Sans', 'DejaVu Sans', sans-serif" font-size="22" fill="#fff" font-weight="bold">.</text>
<text x="173.5" y="95" font-family="'Liberation Sans', 'DejaVu Sans', sans-serif" font-size="33" fill="#fff" textLength="17" lengthAdjust="spacingAndGlyphs" stroke="#fff" stroke-width="0.5">0</text>
<path d="M1 31.5 L4.5 27 L8 31.5 Z" fill="#000"/>
<text x="13" y="32" font-family="'Liberation Sans', 'DejaVu Sans', sans-serif" font-size="10" fill="#000" textLength="59.4" lengthAdjust="spacingAndGlyphs">JPN225-,Daily</text>
<text x="79.3" y="32" font-family="'Liberation Sans', 'DejaVu Sans', sans-serif" font-size="10" fill="#000" textLength="140.7" lengthAdjust="spacingAndGlyphs">21672.5 22092.5 21562.5 21877.5</text>
<rect x="1637" y="42" width="2" height="1" fill="#000"/>
<text x="1642" y="46" font-family="'Liberation Sans', 'DejaVu Sans', sans-serif" font-size="10" fill="#000" textLength="33" lengthAdjust="spacingAndGlyphs">24187.0</text>
<rect x="1637" y="75" width="2" height="1" fill="#000"/>
<text x="1642" y="79" font-family="'Liberation Sans', 'DejaVu Sans', sans-serif" font-size="10" fill="#000" textLength="33" lengthAdjust="spacingAndGlyphs">23643.0</text>
<rect x="1637" y="108" width="2" height="1" fill="#000"/>
<text x="1642" y="112" font-family="'Liberation Sans', 'DejaVu Sans', sans-serif" font-size="10" fill="#000" textLength="33" lengthAdjust="spacingAndGlyphs">23115.0</text>
<rect x="1637" y="141" width="2" height="1" fill="#000"/>
<text x="1642" y="145" font-family="'Liberation Sans', 'DejaVu Sans', sans-serif" font-size="10" fill="#000" textLength="33" lengthAdjust="spacingAndGlyphs">22587.0</text>
<rect x="1637" y="174" width="2" height="1" fill="#000"/>
<text x="1642" y="178" font-family="'Liberation Sans', 'DejaVu Sans', sans-serif" font-size="10" fill="#000" textLength="33" lengthAdjust="spacingAndGlyphs">22059.0</text>
<rect x="1637" y="207" width="2" height="1" fill="#000"/>
<text x="1642" y="211" font-family="'Liberation Sans', 'DejaVu Sans', sans-serif" font-size="10" fill="#000" textLength="33" lengthAdjust="spacingAndGlyphs">21531.0</text>
<rect x="1637" y="274" width="2" height="1" fill="#000"/>
<text x="1642" y="278" font-family="'Liberation Sans', 'DejaVu Sans', sans-serif" font-size="10" fill="#000" textLength="33" lengthAdjust="spacingAndGlyphs">20459.0</text>
<rect x="1637" y="307" width="2" height="1" fill="#000"/>
<text x="1642" y="311" font-family="'Liberation Sans', 'DejaVu Sans', sans-serif" font-size="10" fill="#000" textLength="33" lengthAdjust="spacingAndGlyphs">19931.0</text>
<rect x="1637" y="340" width="2" height="1" fill="#000"/>
<text x="1642" y="344" font-family="'Liberation Sans', 'DejaVu Sans', sans-serif" font-size="10" fill="#000" textLength="33" lengthAdjust="spacingAndGlyphs">19403.0</text>
<rect x="1637" y="373" width="2" height="1" fill="#000"/>
<text x="1642" y="377" font-family="'Liberation Sans', 'DejaVu Sans', sans-serif" font-size="10" fill="#000" textLength="33" lengthAdjust="spacingAndGlyphs">18875.0</text>
<rect x="1637" y="405" width="2" height="1" fill="#000"/>
<text x="1642" y="409" font-family="'Liberation Sans', 'DejaVu Sans', sans-serif" font-size="10" fill="#000" textLength="33" lengthAdjust="spacingAndGlyphs">18331.0</text>
<rect x="1637" y="438" width="2" height="1" fill="#000"/>
<text x="1642" y="442" font-family="'Liberation Sans', 'DejaVu Sans', sans-serif" font-size="10" fill="#000" textLength="33" lengthAdjust="spacingAndGlyphs">17803.0</text>
<rect x="1637" y="471" width="2" height="1" fill="#000"/>
<text x="1642" y="475" font-family="'Liberation Sans', 'DejaVu Sans', sans-serif" font-size="10" fill="#000" textLength="33" lengthAdjust="spacingAndGlyphs">17275.0</text>
<rect x="1637" y="504" width="2" height="1" fill="#000"/>
<text x="1642" y="508" font-family="'Liberation Sans', 'DejaVu Sans', sans-serif" font-size="10" fill="#000" textLength="33" lengthAdjust="spacingAndGlyphs">16747.0</text>
<rect x="1637" y="537" width="2" height="1" fill="#000"/>
<text x="1642" y="541" font-family="'Liberation Sans', 'DejaVu Sans', sans-serif" font-size="10" fill="#000" textLength="33" lengthAdjust="spacingAndGlyphs">16219.0</text>
<rect x="1637" y="570" width="2" height="1" fill="#000"/>
<text x="1642" y="574" font-family="'Liberation Sans', 'DejaVu Sans', sans-serif" font-size="10" fill="#000" textLength="33" lengthAdjust="spacingAndGlyphs">15691.0</text>
<rect x="1637" y="240" width="2" height="1" fill="#000"/>
<rect x="1638" y="127" width="41" height="11" fill="#ff0000"/>
<text x="1642" y="136" font-family="'Liberation Sans', 'DejaVu Sans', sans-serif" font-size="10" fill="#fff" textLength="33" lengthAdjust="spacingAndGlyphs">22710.9</text>
<rect x="1638" y="152" width="41" height="11" fill="#ff0000"/>
<text x="1642" y="161" font-family="'Liberation Sans', 'DejaVu Sans', sans-serif" font-size="10" fill="#fff" textLength="33" lengthAdjust="spacingAndGlyphs">22309.3</text>
<rect x="1638" y="180" width="41" height="11" fill="#000000"/>
<text x="1642" y="189" font-family="'Liberation Sans', 'DejaVu Sans', sans-serif" font-size="10" fill="#fff" textLength="33" lengthAdjust="spacingAndGlyphs">21877.5</text>
<rect x="1638" y="195" width="41" height="11" fill="#32cd32"/>
<text x="1642" y="204" font-family="'Liberation Sans', 'DejaVu Sans', sans-serif" font-size="10" fill="#fff" textLength="33" lengthAdjust="spacingAndGlyphs">21618.6</text>
<rect x="1638" y="217" width="41" height="11" fill="#0000ff"/>
<text x="1642" y="226" font-family="'Liberation Sans', 'DejaVu Sans', sans-serif" font-size="10" fill="#fff" textLength="33" lengthAdjust="spacingAndGlyphs">21265.2</text>
<rect x="1638" y="237" width="41" height="11" fill="#0000ff"/>
<text x="1642" y="246" font-family="'Liberation Sans', 'DejaVu Sans', sans-serif" font-size="10" fill="#fff" textLength="33" lengthAdjust="spacingAndGlyphs">20943.9</text>
<g clip-path="url(#cmacd)" shape-rendering="crispEdges">
<rect x="6" y="595" width="1" height="26" fill="#c0c0c0"/>
<rect x="14" y="595" width="1" height="26" fill="#c0c0c0"/>
<rect x="22" y="597" width="1" height="24" fill="#c0c0c0"/>
<rect x="30" y="595" width="1" height="26" fill="#c0c0c0"/>
<rect x="38" y="598" width="1" height="23" fill="#c0c0c0"/>
<rect x="46" y="600" width="1" height="21" fill="#c0c0c0"/>
<rect x="54" y="601" width="1" height="20" fill="#c0c0c0"/>
<rect x="62" y="602" width="1" height="19" fill="#c0c0c0"/>
<rect x="70" y="603" width="1" height="18" fill="#c0c0c0"/>
<rect x="78" y="605" width="1" height="16" fill="#c0c0c0"/>
<rect x="86" y="607" width="1" height="14" fill="#c0c0c0"/>
<rect x="94" y="609" width="1" height="12" fill="#c0c0c0"/>
<rect x="102" y="611" width="1" height="10" fill="#c0c0c0"/>
<rect x="110" y="611" width="1" height="10" fill="#c0c0c0"/>
<rect x="118" y="610" width="1" height="11" fill="#c0c0c0"/>
<rect x="126" y="610" width="1" height="11" fill="#c0c0c0"/>
<rect x="134" y="609" width="1" height="12" fill="#c0c0c0"/>
<rect x="142" y="608" width="1" height="13" fill="#c0c0c0"/>
<rect x="150" y="610" width="1" height="11" fill="#c0c0c0"/>
<rect x="158" y="611" width="1" height="10" fill="#c0c0c0"/>
<rect x="166" y="612" width="1" height="9" fill="#c0c0c0"/>
<rect x="174" y="614" width="1" height="7" fill="#c0c0c0"/>
<rect x="182" y="615" width="1" height="6" fill="#c0c0c0"/>
<rect x="190" y="615" width="1" height="6" fill="#c0c0c0"/>
<rect x="198" y="614" width="1" height="7" fill="#c0c0c0"/>
<rect x="206" y="612" width="1" height="9" fill="#c0c0c0"/>
<rect x="214" y="614" width="1" height="7" fill="#c0c0c0"/>
<rect x="222" y="615" width="1" height="6" fill="#c0c0c0"/>
<rect x="230" y="615" width="1" height="6" fill="#c0c0c0"/>
<rect x="238" y="612" width="1" height="9" fill="#c0c0c0"/>
<rect x="246" y="611" width="1" height="10" fill="#c0c0c0"/>
<rect x="254" y="609" width="1" height="12" fill="#c0c0c0"/>
<rect x="262" y="607" width="1" height="14" fill="#c0c0c0"/>
<rect x="270" y="606" width="1" height="15" fill="#c0c0c0"/>
<rect x="278" y="607" width="1" height="14" fill="#c0c0c0"/>
<rect x="286" y="607" width="1" height="14" fill="#c0c0c0"/>
<rect x="294" y="608" width="1" height="13" fill="#c0c0c0"/>
<rect x="302" y="608" width="1" height="13" fill="#c0c0c0"/>
<rect x="310" y="609" width="1" height="12" fill="#c0c0c0"/>
<rect x="318" y="610" width="1" height="11" fill="#c0c0c0"/>
<rect x="326" y="611" width="1" height="10" fill="#c0c0c0"/>
<rect x="334" y="611" width="1" height="10" fill="#c0c0c0"/>
<rect x="342" y="612" width="1" height="9" fill="#c0c0c0"/>
<rect x="350" y="613" width="1" height="8" fill="#c0c0c0"/>
<rect x="358" y="615" width="1" height="6" fill="#c0c0c0"/>
<rect x="366" y="617" width="1" height="4" fill="#c0c0c0"/>
<rect x="374" y="619" width="1" height="2" fill="#c0c0c0"/>
<rect x="382" y="619" width="1" height="2" fill="#c0c0c0"/>
<rect x="390" y="620" width="1" height="1" fill="#c0c0c0"/>
<rect x="398" y="620" width="1" height="2" fill="#c0c0c0"/>
<rect x="406" y="620" width="1" height="4" fill="#c0c0c0"/>
<rect x="414" y="620" width="1" height="5" fill="#c0c0c0"/>
<rect x="422" y="620" width="1" height="5" fill="#c0c0c0"/>
<rect x="430" y="620" width="1" height="2" fill="#c0c0c0"/>
<rect x="438" y="620" width="1" height="1" fill="#c0c0c0"/>
<rect x="446" y="620" width="1" height="1" fill="#c0c0c0"/>
<rect x="454" y="619" width="1" height="2" fill="#c0c0c0"/>
<rect x="462" y="618" width="1" height="3" fill="#c0c0c0"/>
<rect x="470" y="616" width="1" height="5" fill="#c0c0c0"/>
<rect x="478" y="614" width="1" height="7" fill="#c0c0c0"/>
<rect x="486" y="613" width="1" height="8" fill="#c0c0c0"/>
<rect x="494" y="613" width="1" height="8" fill="#c0c0c0"/>
<rect x="502" y="612" width="1" height="9" fill="#c0c0c0"/>
<rect x="510" y="614" width="1" height="7" fill="#c0c0c0"/>
<rect x="518" y="614" width="1" height="7" fill="#c0c0c0"/>
<rect x="526" y="615" width="1" height="6" fill="#c0c0c0"/>
<rect x="534" y="617" width="1" height="4" fill="#c0c0c0"/>
<rect x="542" y="620" width="1" height="1" fill="#c0c0c0"/>
<rect x="550" y="620" width="1" height="3" fill="#c0c0c0"/>
<rect x="558" y="620" width="1" height="5" fill="#c0c0c0"/>
<rect x="566" y="620" width="1" height="6" fill="#c0c0c0"/>
<rect x="574" y="620" width="1" height="8" fill="#c0c0c0"/>
<rect x="582" y="620" width="1" height="13" fill="#c0c0c0"/>
<rect x="590" y="620" width="1" height="15" fill="#c0c0c0"/>
<rect x="598" y="620" width="1" height="17" fill="#c0c0c0"/>
<rect x="606" y="620" width="1" height="15" fill="#c0c0c0"/>
<rect x="614" y="620" width="1" height="11" fill="#c0c0c0"/>
<rect x="622" y="620" width="1" height="6" fill="#c0c0c0"/>
<rect x="630" y="620" width="1" height="4" fill="#c0c0c0"/>
<rect x="638" y="620" width="1" height="3" fill="#c0c0c0"/>
<rect x="646" y="620" width="1" height="1" fill="#c0c0c0"/>
<rect x="654" y="620" width="1" height="1" fill="#c0c0c0"/>
<rect x="662" y="618" width="1" height="3" fill="#c0c0c0"/>
<rect x="670" y="618" width="1" height="3" fill="#c0c0c0"/>
<rect x="678" y="619" width="1" height="2" fill="#c0c0c0"/>
<rect x="686" y="620" width="1" height="1" fill="#c0c0c0"/>
<rect x="694" y="620" width="1" height="1" fill="#c0c0c0"/>
<rect x="702" y="620" width="1" height="1" fill="#c0c0c0"/>
<rect x="710" y="620" width="1" height="1" fill="#c0c0c0"/>
<rect x="718" y="620" width="1" height="1" fill="#c0c0c0"/>
<rect x="726" y="620" width="1" height="3" fill="#c0c0c0"/>
<rect x="734" y="620" width="1" height="6" fill="#c0c0c0"/>
<rect x="742" y="620" width="1" height="13" fill="#c0c0c0"/>
<rect x="750" y="620" width="1" height="17" fill="#c0c0c0"/>
<rect x="758" y="620" width="1" height="21" fill="#c0c0c0"/>
<rect x="766" y="620" width="1" height="28" fill="#c0c0c0"/>
<rect x="774" y="620" width="1" height="39" fill="#c0c0c0"/>
<rect x="782" y="620" width="1" height="45" fill="#c0c0c0"/>
<rect x="790" y="620" width="1" height="45" fill="#c0c0c0"/>
<rect x="798" y="620" width="1" height="49" fill="#c0c0c0"/>
<rect x="806" y="620" width="1" height="48" fill="#c0c0c0"/>
<rect x="814" y="620" width="1" height="49" fill="#c0c0c0"/>
<rect x="822" y="620" width="1" height="54" fill="#c0c0c0"/>
<rect x="830" y="620" width="1" height="60" fill="#c0c0c0"/>
<rect x="838" y="620" width="1" height="67" fill="#c0c0c0"/>
<rect x="846" y="620" width="1" height="71" fill="#c0c0c0"/>
<rect x="854" y="620" width="1" height="77" fill="#c0c0c0"/>
<rect x="862" y="620" width="1" height="94" fill="#c0c0c0"/>
<rect x="870" y="620" width="1" height="98" fill="#c0c0c0"/>
<rect x="878" y="620" width="1" height="104" fill="#c0c0c0"/>
<rect x="886" y="620" width="1" height="113" fill="#c0c0c0"/>
<rect x="894" y="620" width="1" height="116" fill="#c0c0c0"/>
<rect x="902" y="620" width="1" height="116" fill="#c0c0c0"/>
<rect x="910" y="620" width="1" height="115" fill="#c0c0c0"/>
<rect x="918" y="620" width="1" height="113" fill="#c0c0c0"/>
<rect x="926" y="620" width="1" height="114" fill="#c0c0c0"/>
<rect x="934" y="620" width="1" height="106" fill="#c0c0c0"/>
<rect x="942" y="620" width="1" height="91" fill="#c0c0c0"/>
<rect x="950" y="620" width="1" height="78" fill="#c0c0c0"/>
<rect x="958" y="620" width="1" height="67" fill="#c0c0c0"/>
<rect x="966" y="620" width="1" height="59" fill="#c0c0c0"/>
<rect x="974" y="620" width="1" height="52" fill="#c0c0c0"/>
<rect x="982" y="620" width="1" height="44" fill="#c0c0c0"/>
<rect x="990" y="620" width="1" height="39" fill="#c0c0c0"/>
<rect x="998" y="620" width="1" height="39" fill="#c0c0c0"/>
<rect x="1006" y="620" width="1" height="39" fill="#c0c0c0"/>
<rect x="1014" y="620" width="1" height="39" fill="#c0c0c0"/>
<rect x="1022" y="620" width="1" height="39" fill="#c0c0c0"/>
<rect x="1030" y="620" width="1" height="31" fill="#c0c0c0"/>
<rect x="1038" y="620" width="1" height="24" fill="#c0c0c0"/>
<rect x="1046" y="620" width="1" height="17" fill="#c0c0c0"/>
<rect x="1054" y="620" width="1" height="10" fill="#c0c0c0"/>
<rect x="1062" y="620" width="1" height="5" fill="#c0c0c0"/>
<rect x="1070" y="620" width="1" height="2" fill="#c0c0c0"/>
<rect x="1078" y="620" width="1" height="1" fill="#c0c0c0"/>
<rect x="1086" y="618" width="1" height="3" fill="#c0c0c0"/>
<rect x="1094" y="616" width="1" height="5" fill="#c0c0c0"/>
<rect x="1102" y="613" width="1" height="8" fill="#c0c0c0"/>
<rect x="1110" y="611" width="1" height="10" fill="#c0c0c0"/>
<rect x="1118" y="609" width="1" height="12" fill="#c0c0c0"/>
<rect x="1126" y="609" width="1" height="12" fill="#c0c0c0"/>
<rect x="1134" y="611" width="1" height="10" fill="#c0c0c0"/>
<rect x="1142" y="612" width="1" height="9" fill="#c0c0c0"/>
<rect x="1150" y="612" width="1" height="9" fill="#c0c0c0"/>
<rect x="1158" y="612" width="1" height="9" fill="#c0c0c0"/>
<rect x="1166" y="612" width="1" height="9" fill="#c0c0c0"/>
<rect x="1174" y="612" width="1" height="9" fill="#c0c0c0"/>
<rect x="1182" y="607" width="1" height="14" fill="#c0c0c0"/>
<rect x="1190" y="603" width="1" height="18" fill="#c0c0c0"/>
<rect x="1198" y="603" width="1" height="18" fill="#c0c0c0"/>
<rect x="1206" y="605" width="1" height="16" fill="#c0c0c0"/>
<rect x="1214" y="608" width="1" height="13" fill="#c0c0c0"/>
<rect x="1222" y="610" width="1" height="11" fill="#c0c0c0"/>
<rect x="1230" y="611" width="1" height="10" fill="#c0c0c0"/>
<rect x="1238" y="612" width="1" height="9" fill="#c0c0c0"/>
<rect x="1246" y="611" width="1" height="10" fill="#c0c0c0"/>
<rect x="1254" y="608" width="1" height="13" fill="#c0c0c0"/>
<rect x="1262" y="605" width="1" height="16" fill="#c0c0c0"/>
<rect x="1270" y="602" width="1" height="19" fill="#c0c0c0"/>
<rect x="1278" y="603" width="1" height="18" fill="#c0c0c0"/>
<rect x="1286" y="603" width="1" height="18" fill="#c0c0c0"/>
<rect x="1294" y="603" width="1" height="18" fill="#c0c0c0"/>
<rect x="1302" y="604" width="1" height="17" fill="#c0c0c0"/>
<rect x="1310" y="605" width="1" height="16" fill="#c0c0c0"/>
<rect x="1318" y="602" width="1" height="19" fill="#c0c0c0"/>
<rect x="1326" y="601" width="1" height="20" fill="#c0c0c0"/>
<rect x="1334" y="600" width="1" height="21" fill="#c0c0c0"/>
<rect x="1342" y="599" width="1" height="22" fill="#c0c0c0"/>
<rect x="1350" y="599" width="1" height="22" fill="#c0c0c0"/>
<rect x="1358" y="599" width="1" height="22" fill="#c0c0c0"/>
<rect x="1366" y="597" width="1" height="24" fill="#c0c0c0"/>
<rect x="1374" y="594" width="1" height="27" fill="#c0c0c0"/>
<rect x="1382" y="590" width="1" height="31" fill="#c0c0c0"/>
<rect x="1390" y="585" width="1" height="36" fill="#c0c0c0"/>
<polyline points="0.0,596.4 28.5,595.4 42.8,595.7 65.6,596.4 74.2,598.0 85.6,599.7 97.0,601.4 102.7,603.7 114.0,604.7 128.3,606.5 135.5,608.0 149.7,609.4 171.0,610.0 199.6,611.4 205.3,612.5 221.0,613.2 240.0,613.5 246.3,613.5 256.2,612.4 263.4,611.1 279.0,610.4 286.2,609.2 299.0,607.5 337.5,607.5 344.7,608.5 350.4,609.5 368.9,611.4 374.6,612.4 388.9,614.7 410.3,617.8 417.4,619.9 434.5,621.4 445.9,622.4 463.0,622.4 472.0,621.2 478.3,620.4 484.0,618.5 492.5,617.5 498.2,616.7 505.4,615.2 511.1,614.5 521.0,614.2 526.7,613.5 535.3,613.5 541.0,614.5 549.6,615.2 558.1,616.4 563.8,617.5 569.5,619.2 575.2,620.4 582.4,622.1 588.1,623.5 593.8,625.4 599.5,627.5 605.2,629.2 612.3,630.3 623.7,631.3 635.1,630.6 640.8,629.9 649.4,629.2 653.7,628.5 659.4,627.5 666.5,625.2 672.2,623.8 677.9,622.4 689.3,621.4 704.0,620.4 708.3,619.7 719.1,619.7 726.8,620.4 733.0,621.3 737.6,622.8 743.8,623.4 750.0,625.5 760.8,628.2 767.0,630.5 774.7,634.2 780.1,638.3 785.5,641.3 791.6,645.0 797.8,649.0 804.0,653.2 810.1,656.3 815.5,658.6 822.5,662.0 828.7,665.1 833.3,667.9 839.5,671.7 845.6,674.5 851.8,677.1 858.0,680.5 863.4,684.1 869.5,689.2 875.7,693.3 881.9,698.4 887.3,703.3 894.2,709.2 899.6,713.4 905.8,717.2 911.2,721.1 917.3,724.6 923.5,727.7 929.7,730.3 935.7,731.1 948.1,728.3 958.8,721.9 965.0,717.2 971.2,712.3 977.4,706.4 983.5,701.0 989.7,694.4 995.1,687.9 1000.5,682.5 1006.7,677.1 1012.1,672.5 1019.0,668.6 1025.2,665.6 1030.6,662.9 1037.5,659.8 1042.9,657.1 1048.3,654.0 1054.5,650.9 1060.7,648.1 1066.8,644.7 1073.0,641.6 1078.4,639.3 1084.6,635.5 1090.0,632.1 1096.1,628.5 1102.3,625.0 1108.5,621.9 1114.6,619.3 1120.8,617.0 1127.0,615.4 1133.2,614.7 1139.3,613.6 1145.5,612.3 1151.7,611.6 1159.4,611.6 1164.0,610.5 1177.1,610.5 1182.8,609.4 1197.1,608.4 1202.8,607.5 1279.8,607.5 1284.1,606.2 1302.6,605.4 1306.9,604.4 1316.9,603.4 1328.3,602.5 1331.1,601.2 1351.1,601.2 1355.4,600.4 1368.2,600.4 1372.5,599.4 1381.0,598.4 1385.3,596.5 1389.6,595.4" fill="none" stroke="#ff0000" stroke-width="1" stroke-dasharray="3 3"/>
</g>
<text x="2" y="588" font-family="'Liberation Sans', 'DejaVu Sans', sans-serif" font-size="9.7" fill="#000" textLength="128" lengthAdjust="spacingAndGlyphs">MACD(12,26,9) 483.88 339.47</text>
<rect x="1637" y="577" width="1" height="1" fill="#000"/>
<text x="1641" y="586" font-family="'Liberation Sans', 'DejaVu Sans', sans-serif" font-size="10" fill="#000" textLength="27" lengthAdjust="spacingAndGlyphs">585.53</text>
<rect x="1637" y="620" width="2" height="1" fill="#000"/>
<text x="1641" y="624" font-family="'Liberation Sans', 'DejaVu Sans', sans-serif" font-size="10" fill="#000" textLength="18" lengthAdjust="spacingAndGlyphs">0.00</text>
<rect x="1637" y="744" width="2" height="1" fill="#000"/>
<text x="1640" y="742" font-family="'Liberation Sans', 'DejaVu Sans', sans-serif" font-size="10" fill="#000" textLength="36" lengthAdjust="spacingAndGlyphs">-1650.82</text>
<g clip-path="url(#crsi)">
<path d="M0 783.5 H1636" stroke="#c0c0c0" stroke-dasharray="3 3" shape-rendering="crispEdges"/>
<path d="M0 834.5 H1636" stroke="#c0c0c0" stroke-dasharray="3 3" shape-rendering="crispEdges"/>
<path d="M0 895.5 H1636" stroke="#c0c0c0" stroke-dasharray="3 3" shape-rendering="crispEdges"/>
<polyline points="0.0,788.6 6.4,796.2 14.4,796.2 22.8,804.3 30.4,801.0 38.5,809.0 46.3,820.4 54.3,811.5 62.7,817.6 70.3,814.3 78.4,826.1 86.3,832.1 94.3,834.3 102.2,829.0 110.2,822.2 118.4,813.6 126.3,814.3 134.3,813.3 142.3,813.3 150.3,824.3 158.3,821.4 166.3,833.3 174.3,837.1 182.2,828.1 190.4,825.0 198.4,816.4 206.3,815.3 214.3,827.1 222.5,828.1 230.4,827.1 238.4,804.4 246.4,805.4 254.4,804.2 262.4,799.7 270.4,804.2 278.3,814.2 286.3,814.2 294.3,817.4 302.3,815.4 310.4,819.9 318.3,822.1 326.3,825.9 334.2,814.5 342.2,825.3 350.4,826.8 358.3,847.3 366.3,846.3 374.3,841.6 382.3,829.6 390.3,848.2 398.3,852.0 406.3,850.2 414.2,855.9 422.4,834.5 430.4,825.3 438.3,827.3 446.3,826.3 454.5,816.4 462.4,820.2 470.4,817.8 478.4,812.5 486.4,817.4 494.4,815.4 502.4,816.4 510.3,831.3 518.3,831.3 526.3,829.6 534.3,841.6 542.4,855.9 550.3,863.0 558.3,853.4 566.2,854.4 574.2,859.1 582.4,872.4 590.3,867.3 598.3,861.6 606.3,838.5 614.3,826.3 622.3,817.4 630.3,827.3 638.3,830.2 646.2,827.3 654.4,823.5 662.4,823.5 670.3,831.6 678.3,837.3 686.5,837.3 694.4,841.6 702.4,844.2 710.4,829.2 718.4,839.9 726.4,847.8 734.4,857.0 742.3,867.3 750.3,868.1 758.3,869.6 766.3,883.0 774.4,891.5 782.3,880.1 790.3,856.3 798.2,866.3 806.2,854.5 814.4,859.6 822.3,868.1 830.3,872.0 838.3,877.3 846.3,872.4 854.3,878.1 862.3,890.5 870.3,869.1 878.2,872.4 886.4,878.4 894.4,870.1 902.3,870.1 910.3,866.3 918.5,867.3 926.4,872.0 934.4,852.7 942.4,838.5 950.4,838.5 958.4,834.2 966.4,840.2 974.3,840.2 982.3,833.1 990.3,840.6 998.3,847.3 1006.4,847.3 1014.3,849.6 1022.3,847.3 1030.2,831.4 1038.2,831.4 1046.4,827.4 1054.3,824.2 1062.3,827.4 1070.3,829.2 1078.3,831.4 1086.3,825.4 1094.3,830.4 1102.3,823.5 1110.2,825.4 1118.4,825.4 1126.4,828.5 1134.3,835.3 1142.3,832.5 1150.5,831.4 1158.4,828.5 1166.4,828.2 1174.4,821.4 1182.4,818.2 1190.4,811.7 1198.4,821.6 1206.3,832.0 1214.3,838.2 1222.3,834.2 1230.3,830.2 1238.4,834.2 1246.3,822.8 1254.3,819.6 1262.2,817.1 1270.2,814.5 1278.4,824.5 1286.3,823.5 1294.3,822.5 1302.3,826.3 1310.3,824.5 1318.3,812.5 1326.3,819.2 1334.3,813.9 1342.2,818.2 1350.4,818.2 1358.4,815.4 1366.3,809.2 1374.3,805.0 1382.5,796.8 1389.6,793.5" fill="none" stroke="#1e90ff" stroke-width="1" shape-rendering="crispEdges"/>
</g>
<text x="2" y="760" font-family="'Liberation Sans', 'DejaVu Sans', sans-serif" font-size="9.7" fill="#000" textLength="68" lengthAdjust="spacingAndGlyphs">RSI(14) 73.9410</text>
<rect x="1637" y="749" width="2" height="1" fill="#000"/>
<text x="1640" y="758" font-family="'Liberation Sans', 'DejaVu Sans', sans-serif" font-size="10" fill="#000" textLength="14" lengthAdjust="spacingAndGlyphs">100</text>
<text x="1640" y="787" font-family="'Liberation Sans', 'DejaVu Sans', sans-serif" font-size="10" fill="#000" textLength="9" lengthAdjust="spacingAndGlyphs">80</text>
<text x="1640" y="838" font-family="'Liberation Sans', 'DejaVu Sans', sans-serif" font-size="10" fill="#000" textLength="9" lengthAdjust="spacingAndGlyphs">50</text>
<text x="1640" y="899" font-family="'Liberation Sans', 'DejaVu Sans', sans-serif" font-size="10" fill="#000" textLength="9" lengthAdjust="spacingAndGlyphs">15</text>
<rect x="1637" y="920" width="2" height="1" fill="#000"/>
<text x="1640" y="918" font-family="'Liberation Sans', 'DejaVu Sans', sans-serif" font-size="10" fill="#000" textLength="5" lengthAdjust="spacingAndGlyphs">0</text>
<text x="-2.8" y="934" font-family="'Liberation Sans', 'DejaVu Sans', sans-serif" font-size="10" fill="#000" textLength="47.8" lengthAdjust="spacingAndGlyphs">7 Nov 2019</text>
<rect x="62" y="922" width="1" height="3" fill="#000"/>
<text x="61.2" y="934" font-family="'Liberation Sans', 'DejaVu Sans', sans-serif" font-size="10" fill="#000" textLength="53.0" lengthAdjust="spacingAndGlyphs">17 Nov 2019</text>
<rect x="126" y="922" width="1" height="3" fill="#000"/>
<text x="125.2" y="934" font-family="'Liberation Sans', 'DejaVu Sans', sans-serif" font-size="10" fill="#000" textLength="53.0" lengthAdjust="spacingAndGlyphs">26 Nov 2019</text>
<rect x="190" y="922" width="1" height="3" fill="#000"/>
<text x="189.2" y="934" font-family="'Liberation Sans', 'DejaVu Sans', sans-serif" font-size="10" fill="#000" textLength="47.8" lengthAdjust="spacingAndGlyphs">5 Dec 2019</text>
<rect x="254" y="922" width="1" height="3" fill="#000"/>
<text x="253.2" y="934" font-family="'Liberation Sans', 'DejaVu Sans', sans-serif" font-size="10" fill="#000" textLength="53.0" lengthAdjust="spacingAndGlyphs">15 Dec 2019</text>
<rect x="318" y="922" width="1" height="3" fill="#000"/>
<text x="317.2" y="934" font-family="'Liberation Sans', 'DejaVu Sans', sans-serif" font-size="10" fill="#000" textLength="53.0" lengthAdjust="spacingAndGlyphs">24 Dec 2019</text>
<rect x="382" y="922" width="1" height="3" fill="#000"/>
<text x="381.2" y="934" font-family="'Liberation Sans', 'DejaVu Sans', sans-serif" font-size="10" fill="#000" textLength="46.3" lengthAdjust="spacingAndGlyphs">2 Jan 2020</text>
<rect x="446" y="922" width="1" height="3" fill="#000"/>
<text x="445.2" y="934" font-family="'Liberation Sans', 'DejaVu Sans', sans-serif" font-size="10" fill="#000" textLength="51.5" lengthAdjust="spacingAndGlyphs">12 Jan 2020</text>
<rect x="510" y="922" width="1" height="3" fill="#000"/>
<text x="509.2" y="934" font-family="'Liberation Sans', 'DejaVu Sans', sans-serif" font-size="10" fill="#000" textLength="51.5" lengthAdjust="spacingAndGlyphs">21 Jan 2020</text>
<rect x="574" y="922" width="1" height="3" fill="#000"/>
<text x="573.2" y="934" font-family="'Liberation Sans', 'DejaVu Sans', sans-serif" font-size="10" fill="#000" textLength="51.5" lengthAdjust="spacingAndGlyphs">30 Jan 2020</text>
<rect x="638" y="922" width="1" height="3" fill="#000"/>
<text x="637.2" y="934" font-family="'Liberation Sans', 'DejaVu Sans', sans-serif" font-size="10" fill="#000" textLength="47.3" lengthAdjust="spacingAndGlyphs">9 Feb 2020</text>
<rect x="702" y="922" width="1" height="3" fill="#000"/>
<text x="701.2" y="934" font-family="'Liberation Sans', 'DejaVu Sans', sans-serif" font-size="10" fill="#000" textLength="52.5" lengthAdjust="spacingAndGlyphs">18 Feb 2020</text>
<rect x="766" y="922" width="1" height="3" fill="#000"/>
<text x="765.2" y="934" font-family="'Liberation Sans', 'DejaVu Sans', sans-serif" font-size="10" fill="#000" textLength="52.5" lengthAdjust="spacingAndGlyphs">27 Feb 2020</text>
<rect x="830" y="922" width="1" height="3" fill="#000"/>
<text x="829.2" y="934" font-family="'Liberation Sans', 'DejaVu Sans', sans-serif" font-size="10" fill="#000" textLength="47.3" lengthAdjust="spacingAndGlyphs">8 Mar 2020</text>
<rect x="894" y="922" width="1" height="3" fill="#000"/>
<text x="893.2" y="934" font-family="'Liberation Sans', 'DejaVu Sans', sans-serif" font-size="10" fill="#000" textLength="52.5" lengthAdjust="spacingAndGlyphs">17 Mar 2020</text>
<rect x="958" y="922" width="1" height="3" fill="#000"/>
<text x="957.2" y="934" font-family="'Liberation Sans', 'DejaVu Sans', sans-serif" font-size="10" fill="#000" textLength="52.5" lengthAdjust="spacingAndGlyphs">26 Mar 2020</text>
<rect x="1022" y="922" width="1" height="3" fill="#000"/>
<text x="1021.2" y="934" font-family="'Liberation Sans', 'DejaVu Sans', sans-serif" font-size="10" fill="#000" textLength="45.2" lengthAdjust="spacingAndGlyphs">5 Apr 2020</text>
<rect x="1086" y="922" width="1" height="3" fill="#000"/>
<text x="1085.2" y="934" font-family="'Liberation Sans', 'DejaVu Sans', sans-serif" font-size="10" fill="#000" textLength="50.4" lengthAdjust="spacingAndGlyphs">14 Apr 2020</text>
<rect x="1150" y="922" width="1" height="3" fill="#000"/>
<text x="1149.2" y="934" font-family="'Liberation Sans', 'DejaVu Sans', sans-serif" font-size="10" fill="#000" textLength="50.4" lengthAdjust="spacingAndGlyphs">23 Apr 2020</text>
<rect x="1214" y="922" width="1" height="3" fill="#000"/>
<text x="1213.2" y="934" font-family="'Liberation Sans', 'DejaVu Sans', sans-serif" font-size="10" fill="#000" textLength="48.9" lengthAdjust="spacingAndGlyphs">3 May 2020</text>
<rect x="1278" y="922" width="1" height="3" fill="#000"/>
<text x="1277.2" y="934" font-family="'Liberation Sans', 'DejaVu Sans', sans-serif" font-size="10" fill="#000" textLength="54.1" lengthAdjust="spacingAndGlyphs">12 May 2020</text>
<rect x="1342" y="922" width="1" height="3" fill="#000"/>
<text x="1341.2" y="934" font-family="'Liberation Sans', 'DejaVu Sans', sans-serif" font-size="10" fill="#000" textLength="54.1" lengthAdjust="spacingAndGlyphs">21 May 2020</text>
</svg></body></html>
